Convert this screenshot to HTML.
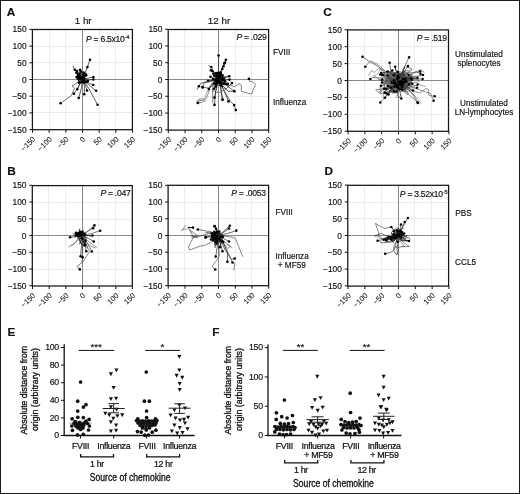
<!DOCTYPE html><html><head><meta charset="utf-8"><style>html,body{margin:0;padding:0;background:#fff;overflow:hidden}svg{display:block;filter:grayscale(1) blur(0.45px)} text{stroke:#111;stroke-width:0.16px} text.ct{stroke-width:0.32px} text.rl{stroke-width:0.05px} text.lb{stroke-width:0.24px}</style></head><body><svg xmlns="http://www.w3.org/2000/svg" width="520" height="494" viewBox="0 0 520 494" font-family='"Liberation Sans", sans-serif' fill="#111">
<rect x="0" y="0" width="520" height="494" fill="#fff"/>
<text x="6.8" y="15.9" font-size="11.8" text-anchor="start" font-weight="bold" font-style="normal" >A</text>
<text x="323.3" y="15.9" font-size="11.8" text-anchor="start" font-weight="bold" font-style="normal" >C</text>
<text x="7.3" y="174.9" font-size="11.8" text-anchor="start" font-weight="bold" font-style="normal" >B</text>
<text x="324.4" y="175.1" font-size="11.8" text-anchor="start" font-weight="bold" font-style="normal" >D</text>
<text x="7.4" y="336.2" font-size="11.8" text-anchor="start" font-weight="bold" font-style="normal" >E</text>
<text x="212.3" y="336" font-size="11.8" text-anchor="start" font-weight="bold" font-style="normal" >F</text>
<text x="83.2" y="23.8" font-size="9.8" text-anchor="middle" font-weight="normal" font-style="normal" >1 hr</text>
<text x="219" y="23.8" font-size="9.8" text-anchor="middle" font-weight="normal" font-style="normal" >12 hr</text>
<line x1="49.50" y1="29.5" x2="49.50" y2="129.7" stroke="#ebebeb" stroke-width="1"/>
<line x1="32.4" y1="112.50" x2="132.4" y2="112.50" stroke="#ebebeb" stroke-width="1"/>
<line x1="65.50" y1="29.5" x2="65.50" y2="129.7" stroke="#ebebeb" stroke-width="1"/>
<line x1="32.4" y1="96.50" x2="132.4" y2="96.50" stroke="#ebebeb" stroke-width="1"/>
<line x1="99.50" y1="29.5" x2="99.50" y2="129.7" stroke="#ebebeb" stroke-width="1"/>
<line x1="32.4" y1="62.50" x2="132.4" y2="62.50" stroke="#ebebeb" stroke-width="1"/>
<line x1="115.50" y1="29.5" x2="115.50" y2="129.7" stroke="#ebebeb" stroke-width="1"/>
<line x1="32.4" y1="46.50" x2="132.4" y2="46.50" stroke="#ebebeb" stroke-width="1"/>
<line x1="82.50" y1="29.5" x2="82.50" y2="129.7" stroke="#7a7a7a" stroke-width="0.9"/>
<line x1="32.4" y1="79.50" x2="132.4" y2="79.50" stroke="#7a7a7a" stroke-width="0.9"/>
<line x1="29.4" y1="29.40" x2="32.4" y2="29.40" stroke="#111" stroke-width="1"/>
<text x="26.60" y="32.40" font-size="8.4" text-anchor="end" font-weight="normal" font-style="normal" >150</text>
<line x1="29.4" y1="46.10" x2="32.4" y2="46.10" stroke="#111" stroke-width="1"/>
<text x="26.60" y="49.10" font-size="8.4" text-anchor="end" font-weight="normal" font-style="normal" >100</text>
<line x1="29.4" y1="62.80" x2="32.4" y2="62.80" stroke="#111" stroke-width="1"/>
<text x="26.60" y="65.80" font-size="8.4" text-anchor="end" font-weight="normal" font-style="normal" >50</text>
<line x1="29.4" y1="79.50" x2="32.4" y2="79.50" stroke="#111" stroke-width="1"/>
<text x="26.60" y="82.50" font-size="8.4" text-anchor="end" font-weight="normal" font-style="normal" >0</text>
<line x1="29.4" y1="96.20" x2="32.4" y2="96.20" stroke="#111" stroke-width="1"/>
<text x="26.60" y="99.20" font-size="8.4" text-anchor="end" font-weight="normal" font-style="normal" >&#8722;50</text>
<line x1="29.4" y1="112.90" x2="32.4" y2="112.90" stroke="#111" stroke-width="1"/>
<text x="26.60" y="115.90" font-size="8.4" text-anchor="end" font-weight="normal" font-style="normal" >&#8722;100</text>
<line x1="29.4" y1="129.60" x2="32.4" y2="129.60" stroke="#111" stroke-width="1"/>
<text x="26.60" y="132.60" font-size="8.4" text-anchor="end" font-weight="normal" font-style="normal" >&#8722;150</text>
<line x1="32.50" y1="129.7" x2="32.50" y2="132.7" stroke="#111" stroke-width="1"/>
<text class="rl" font-size="7.5" text-anchor="end" transform="translate(35.80,139.70) rotate(-45)">&#8722;150</text>
<line x1="49.17" y1="129.7" x2="49.17" y2="132.7" stroke="#111" stroke-width="1"/>
<text class="rl" font-size="7.5" text-anchor="end" transform="translate(52.47,139.70) rotate(-45)">&#8722;100</text>
<line x1="65.83" y1="129.7" x2="65.83" y2="132.7" stroke="#111" stroke-width="1"/>
<text class="rl" font-size="7.5" text-anchor="end" transform="translate(69.13,139.70) rotate(-45)">&#8722;50</text>
<line x1="82.50" y1="129.7" x2="82.50" y2="132.7" stroke="#111" stroke-width="1"/>
<text class="rl" font-size="7.5" text-anchor="end" transform="translate(85.80,139.70) rotate(-45)">0</text>
<line x1="99.17" y1="129.7" x2="99.17" y2="132.7" stroke="#111" stroke-width="1"/>
<text class="rl" font-size="7.5" text-anchor="end" transform="translate(102.47,139.70) rotate(-45)">50</text>
<line x1="115.83" y1="129.7" x2="115.83" y2="132.7" stroke="#111" stroke-width="1"/>
<text class="rl" font-size="7.5" text-anchor="end" transform="translate(119.13,139.70) rotate(-45)">100</text>
<line x1="132.50" y1="129.7" x2="132.50" y2="132.7" stroke="#111" stroke-width="1"/>
<text class="rl" font-size="7.5" text-anchor="end" transform="translate(135.80,139.70) rotate(-45)">150</text>
<rect x="32.4" y="29.5" width="100" height="100.2" fill="none" stroke="#151515" stroke-width="1.25"/>
<text x="129.0" y="41.8" font-size="8.6" letter-spacing="-0.28" text-anchor="end"><tspan font-style="italic">P</tspan> = 6.5x10<tspan font-size="5.6" dy="-2.8">-4</tspan></text>
<line x1="184.50" y1="29.5" x2="184.50" y2="130.1" stroke="#ebebeb" stroke-width="1"/>
<line x1="168.2" y1="113.50" x2="268.6" y2="113.50" stroke="#ebebeb" stroke-width="1"/>
<line x1="201.50" y1="29.5" x2="201.50" y2="130.1" stroke="#ebebeb" stroke-width="1"/>
<line x1="168.2" y1="96.50" x2="268.6" y2="96.50" stroke="#ebebeb" stroke-width="1"/>
<line x1="235.50" y1="29.5" x2="235.50" y2="130.1" stroke="#ebebeb" stroke-width="1"/>
<line x1="168.2" y1="63.50" x2="268.6" y2="63.50" stroke="#ebebeb" stroke-width="1"/>
<line x1="251.50" y1="29.5" x2="251.50" y2="130.1" stroke="#ebebeb" stroke-width="1"/>
<line x1="168.2" y1="46.50" x2="268.6" y2="46.50" stroke="#ebebeb" stroke-width="1"/>
<line x1="218.50" y1="29.5" x2="218.50" y2="130.1" stroke="#7a7a7a" stroke-width="0.9"/>
<line x1="168.2" y1="79.50" x2="268.6" y2="79.50" stroke="#7a7a7a" stroke-width="0.9"/>
<line x1="165.2" y1="29.20" x2="168.2" y2="29.20" stroke="#111" stroke-width="1"/>
<text x="162.40" y="32.20" font-size="8.4" text-anchor="end" font-weight="normal" font-style="normal" >150</text>
<line x1="165.2" y1="45.97" x2="168.2" y2="45.97" stroke="#111" stroke-width="1"/>
<text x="162.40" y="48.97" font-size="8.4" text-anchor="end" font-weight="normal" font-style="normal" >100</text>
<line x1="165.2" y1="62.73" x2="168.2" y2="62.73" stroke="#111" stroke-width="1"/>
<text x="162.40" y="65.73" font-size="8.4" text-anchor="end" font-weight="normal" font-style="normal" >50</text>
<line x1="165.2" y1="79.50" x2="168.2" y2="79.50" stroke="#111" stroke-width="1"/>
<text x="162.40" y="82.50" font-size="8.4" text-anchor="end" font-weight="normal" font-style="normal" >0</text>
<line x1="165.2" y1="96.27" x2="168.2" y2="96.27" stroke="#111" stroke-width="1"/>
<text x="162.40" y="99.27" font-size="8.4" text-anchor="end" font-weight="normal" font-style="normal" >&#8722;50</text>
<line x1="165.2" y1="113.03" x2="168.2" y2="113.03" stroke="#111" stroke-width="1"/>
<text x="162.40" y="116.03" font-size="8.4" text-anchor="end" font-weight="normal" font-style="normal" >&#8722;100</text>
<line x1="165.2" y1="129.80" x2="168.2" y2="129.80" stroke="#111" stroke-width="1"/>
<text x="162.40" y="132.80" font-size="8.4" text-anchor="end" font-weight="normal" font-style="normal" >&#8722;150</text>
<line x1="168.30" y1="130.1" x2="168.30" y2="133.1" stroke="#111" stroke-width="1"/>
<text class="rl" font-size="7.5" text-anchor="end" transform="translate(171.60,140.10) rotate(-45)">&#8722;150</text>
<line x1="185.03" y1="130.1" x2="185.03" y2="133.1" stroke="#111" stroke-width="1"/>
<text class="rl" font-size="7.5" text-anchor="end" transform="translate(188.33,140.10) rotate(-45)">&#8722;100</text>
<line x1="201.77" y1="130.1" x2="201.77" y2="133.1" stroke="#111" stroke-width="1"/>
<text class="rl" font-size="7.5" text-anchor="end" transform="translate(205.07,140.10) rotate(-45)">&#8722;50</text>
<line x1="218.50" y1="130.1" x2="218.50" y2="133.1" stroke="#111" stroke-width="1"/>
<text class="rl" font-size="7.5" text-anchor="end" transform="translate(221.80,140.10) rotate(-45)">0</text>
<line x1="235.23" y1="130.1" x2="235.23" y2="133.1" stroke="#111" stroke-width="1"/>
<text class="rl" font-size="7.5" text-anchor="end" transform="translate(238.53,140.10) rotate(-45)">50</text>
<line x1="251.97" y1="130.1" x2="251.97" y2="133.1" stroke="#111" stroke-width="1"/>
<text class="rl" font-size="7.5" text-anchor="end" transform="translate(255.27,140.10) rotate(-45)">100</text>
<line x1="268.70" y1="130.1" x2="268.70" y2="133.1" stroke="#111" stroke-width="1"/>
<text class="rl" font-size="7.5" text-anchor="end" transform="translate(272.00,140.10) rotate(-45)">150</text>
<rect x="168.2" y="29.5" width="100.4" height="100.6" fill="none" stroke="#151515" stroke-width="1.25"/>
<text x="266.40000000000003" y="40.1" font-size="8.6" letter-spacing="-0.28" text-anchor="end"><tspan font-style="italic">P</tspan> = .029</text>
<line x1="364.50" y1="29.9" x2="364.50" y2="131.3" stroke="#ebebeb" stroke-width="1"/>
<line x1="347.6" y1="114.50" x2="448.5" y2="114.50" stroke="#ebebeb" stroke-width="1"/>
<line x1="381.50" y1="29.9" x2="381.50" y2="131.3" stroke="#ebebeb" stroke-width="1"/>
<line x1="347.6" y1="97.50" x2="448.5" y2="97.50" stroke="#ebebeb" stroke-width="1"/>
<line x1="414.50" y1="29.9" x2="414.50" y2="131.3" stroke="#ebebeb" stroke-width="1"/>
<line x1="347.6" y1="63.50" x2="448.5" y2="63.50" stroke="#ebebeb" stroke-width="1"/>
<line x1="431.50" y1="29.9" x2="431.50" y2="131.3" stroke="#ebebeb" stroke-width="1"/>
<line x1="347.6" y1="46.50" x2="448.5" y2="46.50" stroke="#ebebeb" stroke-width="1"/>
<line x1="398.50" y1="29.9" x2="398.50" y2="131.3" stroke="#7a7a7a" stroke-width="0.9"/>
<line x1="347.6" y1="80.50" x2="448.5" y2="80.50" stroke="#7a7a7a" stroke-width="0.9"/>
<line x1="344.6" y1="29.80" x2="347.6" y2="29.80" stroke="#111" stroke-width="1"/>
<text x="341.80" y="32.80" font-size="8.4" text-anchor="end" font-weight="normal" font-style="normal" >150</text>
<line x1="344.6" y1="46.70" x2="347.6" y2="46.70" stroke="#111" stroke-width="1"/>
<text x="341.80" y="49.70" font-size="8.4" text-anchor="end" font-weight="normal" font-style="normal" >100</text>
<line x1="344.6" y1="63.60" x2="347.6" y2="63.60" stroke="#111" stroke-width="1"/>
<text x="341.80" y="66.60" font-size="8.4" text-anchor="end" font-weight="normal" font-style="normal" >50</text>
<line x1="344.6" y1="80.50" x2="347.6" y2="80.50" stroke="#111" stroke-width="1"/>
<text x="341.80" y="83.50" font-size="8.4" text-anchor="end" font-weight="normal" font-style="normal" >0</text>
<line x1="344.6" y1="97.40" x2="347.6" y2="97.40" stroke="#111" stroke-width="1"/>
<text x="341.80" y="100.40" font-size="8.4" text-anchor="end" font-weight="normal" font-style="normal" >&#8722;50</text>
<line x1="344.6" y1="114.30" x2="347.6" y2="114.30" stroke="#111" stroke-width="1"/>
<text x="341.80" y="117.30" font-size="8.4" text-anchor="end" font-weight="normal" font-style="normal" >&#8722;100</text>
<line x1="344.6" y1="131.20" x2="347.6" y2="131.20" stroke="#111" stroke-width="1"/>
<text x="341.80" y="134.20" font-size="8.4" text-anchor="end" font-weight="normal" font-style="normal" >&#8722;150</text>
<line x1="348.05" y1="131.3" x2="348.05" y2="134.3" stroke="#111" stroke-width="1"/>
<text class="rl" font-size="7.5" text-anchor="end" transform="translate(351.35,141.30) rotate(-45)">&#8722;150</text>
<line x1="364.87" y1="131.3" x2="364.87" y2="134.3" stroke="#111" stroke-width="1"/>
<text class="rl" font-size="7.5" text-anchor="end" transform="translate(368.17,141.30) rotate(-45)">&#8722;100</text>
<line x1="381.68" y1="131.3" x2="381.68" y2="134.3" stroke="#111" stroke-width="1"/>
<text class="rl" font-size="7.5" text-anchor="end" transform="translate(384.98,141.30) rotate(-45)">&#8722;50</text>
<line x1="398.50" y1="131.3" x2="398.50" y2="134.3" stroke="#111" stroke-width="1"/>
<text class="rl" font-size="7.5" text-anchor="end" transform="translate(401.80,141.30) rotate(-45)">0</text>
<line x1="415.32" y1="131.3" x2="415.32" y2="134.3" stroke="#111" stroke-width="1"/>
<text class="rl" font-size="7.5" text-anchor="end" transform="translate(418.62,141.30) rotate(-45)">50</text>
<line x1="432.13" y1="131.3" x2="432.13" y2="134.3" stroke="#111" stroke-width="1"/>
<text class="rl" font-size="7.5" text-anchor="end" transform="translate(435.43,141.30) rotate(-45)">100</text>
<line x1="448.95" y1="131.3" x2="448.95" y2="134.3" stroke="#111" stroke-width="1"/>
<text class="rl" font-size="7.5" text-anchor="end" transform="translate(452.25,141.30) rotate(-45)">150</text>
<rect x="347.6" y="29.9" width="100.9" height="101.4" fill="none" stroke="#151515" stroke-width="1.25"/>
<text x="446.8" y="40.7" font-size="8.6" letter-spacing="-0.28" text-anchor="end"><tspan font-style="italic">P</tspan> = .519</text>
<line x1="48.50" y1="185.6" x2="48.50" y2="286.0" stroke="#ebebeb" stroke-width="1"/>
<line x1="32.3" y1="269.50" x2="132.3" y2="269.50" stroke="#ebebeb" stroke-width="1"/>
<line x1="65.50" y1="185.6" x2="65.50" y2="286.0" stroke="#ebebeb" stroke-width="1"/>
<line x1="32.3" y1="252.50" x2="132.3" y2="252.50" stroke="#ebebeb" stroke-width="1"/>
<line x1="98.50" y1="185.6" x2="98.50" y2="286.0" stroke="#ebebeb" stroke-width="1"/>
<line x1="32.3" y1="219.50" x2="132.3" y2="219.50" stroke="#ebebeb" stroke-width="1"/>
<line x1="115.50" y1="185.6" x2="115.50" y2="286.0" stroke="#ebebeb" stroke-width="1"/>
<line x1="32.3" y1="202.50" x2="132.3" y2="202.50" stroke="#ebebeb" stroke-width="1"/>
<line x1="82.50" y1="185.6" x2="82.50" y2="286.0" stroke="#7a7a7a" stroke-width="0.9"/>
<line x1="32.3" y1="235.50" x2="132.3" y2="235.50" stroke="#7a7a7a" stroke-width="0.9"/>
<line x1="29.299999999999997" y1="185.30" x2="32.3" y2="185.30" stroke="#111" stroke-width="1"/>
<text x="26.50" y="188.30" font-size="8.4" text-anchor="end" font-weight="normal" font-style="normal" >150</text>
<line x1="29.299999999999997" y1="202.03" x2="32.3" y2="202.03" stroke="#111" stroke-width="1"/>
<text x="26.50" y="205.03" font-size="8.4" text-anchor="end" font-weight="normal" font-style="normal" >100</text>
<line x1="29.299999999999997" y1="218.77" x2="32.3" y2="218.77" stroke="#111" stroke-width="1"/>
<text x="26.50" y="221.77" font-size="8.4" text-anchor="end" font-weight="normal" font-style="normal" >50</text>
<line x1="29.299999999999997" y1="235.50" x2="32.3" y2="235.50" stroke="#111" stroke-width="1"/>
<text x="26.50" y="238.50" font-size="8.4" text-anchor="end" font-weight="normal" font-style="normal" >0</text>
<line x1="29.299999999999997" y1="252.23" x2="32.3" y2="252.23" stroke="#111" stroke-width="1"/>
<text x="26.50" y="255.23" font-size="8.4" text-anchor="end" font-weight="normal" font-style="normal" >&#8722;50</text>
<line x1="29.299999999999997" y1="268.97" x2="32.3" y2="268.97" stroke="#111" stroke-width="1"/>
<text x="26.50" y="271.97" font-size="8.4" text-anchor="end" font-weight="normal" font-style="normal" >&#8722;100</text>
<line x1="29.299999999999997" y1="285.70" x2="32.3" y2="285.70" stroke="#111" stroke-width="1"/>
<text x="26.50" y="288.70" font-size="8.4" text-anchor="end" font-weight="normal" font-style="normal" >&#8722;150</text>
<line x1="32.50" y1="286.0" x2="32.50" y2="289.0" stroke="#111" stroke-width="1"/>
<text class="rl" font-size="7.5" text-anchor="end" transform="translate(35.80,296.00) rotate(-45)">&#8722;150</text>
<line x1="49.17" y1="286.0" x2="49.17" y2="289.0" stroke="#111" stroke-width="1"/>
<text class="rl" font-size="7.5" text-anchor="end" transform="translate(52.47,296.00) rotate(-45)">&#8722;100</text>
<line x1="65.83" y1="286.0" x2="65.83" y2="289.0" stroke="#111" stroke-width="1"/>
<text class="rl" font-size="7.5" text-anchor="end" transform="translate(69.13,296.00) rotate(-45)">&#8722;50</text>
<line x1="82.50" y1="286.0" x2="82.50" y2="289.0" stroke="#111" stroke-width="1"/>
<text class="rl" font-size="7.5" text-anchor="end" transform="translate(85.80,296.00) rotate(-45)">0</text>
<line x1="99.17" y1="286.0" x2="99.17" y2="289.0" stroke="#111" stroke-width="1"/>
<text class="rl" font-size="7.5" text-anchor="end" transform="translate(102.47,296.00) rotate(-45)">50</text>
<line x1="115.83" y1="286.0" x2="115.83" y2="289.0" stroke="#111" stroke-width="1"/>
<text class="rl" font-size="7.5" text-anchor="end" transform="translate(119.13,296.00) rotate(-45)">100</text>
<line x1="132.50" y1="286.0" x2="132.50" y2="289.0" stroke="#111" stroke-width="1"/>
<text class="rl" font-size="7.5" text-anchor="end" transform="translate(135.80,296.00) rotate(-45)">150</text>
<rect x="32.3" y="185.6" width="100" height="100.4" fill="none" stroke="#151515" stroke-width="1.25"/>
<text x="130.4" y="195.9" font-size="8.6" letter-spacing="-0.28" text-anchor="end"><tspan font-style="italic">P</tspan> = .047</text>
<line x1="184.50" y1="185.3" x2="184.50" y2="285.70000000000005" stroke="#ebebeb" stroke-width="1"/>
<line x1="168.1" y1="268.50" x2="268.6" y2="268.50" stroke="#ebebeb" stroke-width="1"/>
<line x1="201.50" y1="185.3" x2="201.50" y2="285.70000000000005" stroke="#ebebeb" stroke-width="1"/>
<line x1="168.1" y1="252.50" x2="268.6" y2="252.50" stroke="#ebebeb" stroke-width="1"/>
<line x1="235.50" y1="185.3" x2="235.50" y2="285.70000000000005" stroke="#ebebeb" stroke-width="1"/>
<line x1="168.1" y1="218.50" x2="268.6" y2="218.50" stroke="#ebebeb" stroke-width="1"/>
<line x1="251.50" y1="185.3" x2="251.50" y2="285.70000000000005" stroke="#ebebeb" stroke-width="1"/>
<line x1="168.1" y1="202.50" x2="268.6" y2="202.50" stroke="#ebebeb" stroke-width="1"/>
<line x1="218.50" y1="185.3" x2="218.50" y2="285.70000000000005" stroke="#7a7a7a" stroke-width="0.9"/>
<line x1="168.1" y1="235.50" x2="268.6" y2="235.50" stroke="#7a7a7a" stroke-width="0.9"/>
<line x1="165.1" y1="185.30" x2="168.1" y2="185.30" stroke="#111" stroke-width="1"/>
<text x="162.30" y="188.30" font-size="8.4" text-anchor="end" font-weight="normal" font-style="normal" >150</text>
<line x1="165.1" y1="202.03" x2="168.1" y2="202.03" stroke="#111" stroke-width="1"/>
<text x="162.30" y="205.03" font-size="8.4" text-anchor="end" font-weight="normal" font-style="normal" >100</text>
<line x1="165.1" y1="218.77" x2="168.1" y2="218.77" stroke="#111" stroke-width="1"/>
<text x="162.30" y="221.77" font-size="8.4" text-anchor="end" font-weight="normal" font-style="normal" >50</text>
<line x1="165.1" y1="235.50" x2="168.1" y2="235.50" stroke="#111" stroke-width="1"/>
<text x="162.30" y="238.50" font-size="8.4" text-anchor="end" font-weight="normal" font-style="normal" >0</text>
<line x1="165.1" y1="252.23" x2="168.1" y2="252.23" stroke="#111" stroke-width="1"/>
<text x="162.30" y="255.23" font-size="8.4" text-anchor="end" font-weight="normal" font-style="normal" >&#8722;50</text>
<line x1="165.1" y1="268.97" x2="168.1" y2="268.97" stroke="#111" stroke-width="1"/>
<text x="162.30" y="271.97" font-size="8.4" text-anchor="end" font-weight="normal" font-style="normal" >&#8722;100</text>
<line x1="165.1" y1="285.70" x2="168.1" y2="285.70" stroke="#111" stroke-width="1"/>
<text x="162.30" y="288.70" font-size="8.4" text-anchor="end" font-weight="normal" font-style="normal" >&#8722;150</text>
<line x1="168.25" y1="285.70000000000005" x2="168.25" y2="288.70000000000005" stroke="#111" stroke-width="1"/>
<text class="rl" font-size="7.5" text-anchor="end" transform="translate(171.55,295.70) rotate(-45)">&#8722;150</text>
<line x1="185.00" y1="285.70000000000005" x2="185.00" y2="288.70000000000005" stroke="#111" stroke-width="1"/>
<text class="rl" font-size="7.5" text-anchor="end" transform="translate(188.30,295.70) rotate(-45)">&#8722;100</text>
<line x1="201.75" y1="285.70000000000005" x2="201.75" y2="288.70000000000005" stroke="#111" stroke-width="1"/>
<text class="rl" font-size="7.5" text-anchor="end" transform="translate(205.05,295.70) rotate(-45)">&#8722;50</text>
<line x1="218.50" y1="285.70000000000005" x2="218.50" y2="288.70000000000005" stroke="#111" stroke-width="1"/>
<text class="rl" font-size="7.5" text-anchor="end" transform="translate(221.80,295.70) rotate(-45)">0</text>
<line x1="235.25" y1="285.70000000000005" x2="235.25" y2="288.70000000000005" stroke="#111" stroke-width="1"/>
<text class="rl" font-size="7.5" text-anchor="end" transform="translate(238.55,295.70) rotate(-45)">50</text>
<line x1="252.00" y1="285.70000000000005" x2="252.00" y2="288.70000000000005" stroke="#111" stroke-width="1"/>
<text class="rl" font-size="7.5" text-anchor="end" transform="translate(255.30,295.70) rotate(-45)">100</text>
<line x1="268.75" y1="285.70000000000005" x2="268.75" y2="288.70000000000005" stroke="#111" stroke-width="1"/>
<text class="rl" font-size="7.5" text-anchor="end" transform="translate(272.05,295.70) rotate(-45)">150</text>
<rect x="168.1" y="185.3" width="100.5" height="100.4" fill="none" stroke="#151515" stroke-width="1.25"/>
<text x="265.70000000000005" y="196.3" font-size="8.6" letter-spacing="-0.28" text-anchor="end"><tspan font-style="italic">P</tspan> = .0053</text>
<line x1="364.50" y1="185.3" x2="364.50" y2="286.1" stroke="#ebebeb" stroke-width="1"/>
<line x1="347.75" y1="269.50" x2="448.6" y2="269.50" stroke="#ebebeb" stroke-width="1"/>
<line x1="381.50" y1="185.3" x2="381.50" y2="286.1" stroke="#ebebeb" stroke-width="1"/>
<line x1="347.75" y1="252.50" x2="448.6" y2="252.50" stroke="#ebebeb" stroke-width="1"/>
<line x1="414.50" y1="185.3" x2="414.50" y2="286.1" stroke="#ebebeb" stroke-width="1"/>
<line x1="347.75" y1="218.50" x2="448.6" y2="218.50" stroke="#ebebeb" stroke-width="1"/>
<line x1="431.50" y1="185.3" x2="431.50" y2="286.1" stroke="#ebebeb" stroke-width="1"/>
<line x1="347.75" y1="202.50" x2="448.6" y2="202.50" stroke="#ebebeb" stroke-width="1"/>
<line x1="398.50" y1="185.3" x2="398.50" y2="286.1" stroke="#7a7a7a" stroke-width="0.9"/>
<line x1="347.75" y1="235.50" x2="448.6" y2="235.50" stroke="#7a7a7a" stroke-width="0.9"/>
<line x1="344.75" y1="185.10" x2="347.75" y2="185.10" stroke="#111" stroke-width="1"/>
<text x="341.95" y="188.10" font-size="8.4" text-anchor="end" font-weight="normal" font-style="normal" >150</text>
<line x1="344.75" y1="201.90" x2="347.75" y2="201.90" stroke="#111" stroke-width="1"/>
<text x="341.95" y="204.90" font-size="8.4" text-anchor="end" font-weight="normal" font-style="normal" >100</text>
<line x1="344.75" y1="218.70" x2="347.75" y2="218.70" stroke="#111" stroke-width="1"/>
<text x="341.95" y="221.70" font-size="8.4" text-anchor="end" font-weight="normal" font-style="normal" >50</text>
<line x1="344.75" y1="235.50" x2="347.75" y2="235.50" stroke="#111" stroke-width="1"/>
<text x="341.95" y="238.50" font-size="8.4" text-anchor="end" font-weight="normal" font-style="normal" >0</text>
<line x1="344.75" y1="252.30" x2="347.75" y2="252.30" stroke="#111" stroke-width="1"/>
<text x="341.95" y="255.30" font-size="8.4" text-anchor="end" font-weight="normal" font-style="normal" >&#8722;50</text>
<line x1="344.75" y1="269.10" x2="347.75" y2="269.10" stroke="#111" stroke-width="1"/>
<text x="341.95" y="272.10" font-size="8.4" text-anchor="end" font-weight="normal" font-style="normal" >&#8722;100</text>
<line x1="344.75" y1="285.90" x2="347.75" y2="285.90" stroke="#111" stroke-width="1"/>
<text x="341.95" y="288.90" font-size="8.4" text-anchor="end" font-weight="normal" font-style="normal" >&#8722;150</text>
<line x1="348.07" y1="286.1" x2="348.07" y2="289.1" stroke="#111" stroke-width="1"/>
<text class="rl" font-size="7.5" text-anchor="end" transform="translate(351.38,296.10) rotate(-45)">&#8722;150</text>
<line x1="364.88" y1="286.1" x2="364.88" y2="289.1" stroke="#111" stroke-width="1"/>
<text class="rl" font-size="7.5" text-anchor="end" transform="translate(368.18,296.10) rotate(-45)">&#8722;100</text>
<line x1="381.69" y1="286.1" x2="381.69" y2="289.1" stroke="#111" stroke-width="1"/>
<text class="rl" font-size="7.5" text-anchor="end" transform="translate(384.99,296.10) rotate(-45)">&#8722;50</text>
<line x1="398.50" y1="286.1" x2="398.50" y2="289.1" stroke="#111" stroke-width="1"/>
<text class="rl" font-size="7.5" text-anchor="end" transform="translate(401.80,296.10) rotate(-45)">0</text>
<line x1="415.31" y1="286.1" x2="415.31" y2="289.1" stroke="#111" stroke-width="1"/>
<text class="rl" font-size="7.5" text-anchor="end" transform="translate(418.61,296.10) rotate(-45)">50</text>
<line x1="432.12" y1="286.1" x2="432.12" y2="289.1" stroke="#111" stroke-width="1"/>
<text class="rl" font-size="7.5" text-anchor="end" transform="translate(435.42,296.10) rotate(-45)">100</text>
<line x1="448.93" y1="286.1" x2="448.93" y2="289.1" stroke="#111" stroke-width="1"/>
<text class="rl" font-size="7.5" text-anchor="end" transform="translate(452.23,296.10) rotate(-45)">150</text>
<rect x="347.75" y="185.3" width="100.85" height="100.8" fill="none" stroke="#151515" stroke-width="1.25"/>
<text x="447.3" y="196.60000000000002" font-size="8.6" letter-spacing="-0.28" text-anchor="end"><tspan font-style="italic">P</tspan> = 3.52x10<tspan font-size="5.6" dy="-2.8">-5</tspan></text>
<g fill="none" stroke-width="0.75" stroke-linejoin="round"><path d="M82.5,79.5 L81.6,80.4 L80.1,79.8 L80.1,78.9 L78.9,78.3 L78.3,78.2 L77.8,77.9" stroke="#111"/><path d="M82.5,79.5 L82.5,79.8 L82.4,78.1 L79.8,80.1 L80.5,79.6 L79.6,79.2 L79.1,78.8 L78.8,78.9" stroke="#111"/><path d="M82.5,79.5 L83.8,79.8 L82.3,77.2 L80.6,76.4 L80.1,76.5 L80.3,75.6 L79.9,74.6 L79.6,73.5" stroke="#111"/><path d="M82.5,79.5 L82.5,78.9 L82.2,78.2 L82.9,76.5 L82.8,75.9 L83.9,74.9 L83.9,74.3" stroke="#111"/><path d="M82.5,79.5 L81.0,77.9 L80.2,77.5 L78.5,77.2 L77.0,77.0" stroke="#111"/><path d="M82.5,79.5 L84.8,77.1 L83.2,79.0 L84.9,77.1 L85.1,75.9 L86.2,75.3" stroke="#111"/><path d="M82.5,79.5 L81.4,77.7 L82.2,75.6 L82.5,73.4" stroke="#111"/><path d="M82.5,79.5 L80.6,77.9 L81.9,79.5 L79.5,77.6 L79.5,78.4 L78.2,77.7 L77.6,77.0" stroke="#111"/><path d="M82.5,79.5 L81.5,79.7 L81.6,79.3 L82.2,77.7 L81.7,77.8 L81.8,77.1" stroke="#111"/><path d="M82.5,79.5 L81.8,79.4 L83.5,75.7 L83.0,74.9 L83.0,73.7 L83.5,72.5" stroke="#111"/><path d="M82.5,79.5 L83.1,80.1 L83.0,78.6 L82.2,78.7 L83.4,79.7 L83.2,79.5" stroke="#111"/><path d="M82.5,79.5 L80.2,77.7 L80.1,78.2 L78.3,78.8 L78.0,77.3 L76.7,77.1" stroke="#111"/><path d="M82.5,79.5 L83.6,77.5 L81.7,77.3 L81.6,77.9 L80.2,77.1 L80.2,76.9 L80.1,76.7" stroke="#111"/><path d="M82.5,79.5 L82.7,79.8 L82.3,78.4 L82.9,77.1 L84.2,75.7 L84.8,75.1 L85.1,74.3" stroke="#111"/><path d="M82.5,79.5 L81.6,78.0 L84.0,79.2 L82.8,79.2 L82.8,78.2 L82.9,77.4 L83.6,77.4 L83.6,76.7" stroke="#111"/><path d="M82.5,79.5 L81.7,80.6 L80.6,77.9 L82.5,79.5 L80.7,78.6 L81.2,78.7 L80.6,78.3" stroke="#111"/><path d="M82.5,79.5 L82.0,76.6 L80.5,77.8 L80.4,75.8 L81.2,73.6 L81.1,72.0 L80.2,71.1 L80.1,69.7" stroke="#111"/><path d="M82.5,79.5 L82.1,79.1 L82.2,78.5 L81.7,77.4" stroke="#111"/><path d="M82.5,79.5 L82.2,78.7 L79.9,77.4 L79.5,76.9" stroke="#111"/><path d="M82.5,79.5 L81.7,81.5 L83.8,80.2 L83.7,81.8 L84.1,82.4" stroke="#111"/><path d="M82.5,79.5 L82.8,78.5 L82.7,77.1 L84.4,75.3 L84.5,73.3 L84.8,72.1" stroke="#111"/><path d="M82.5,79.5 L80.5,79.3 L78.9,77.7 L78.1,76.6 L77.5,75.7 L76.4,75.0" stroke="#111"/><path d="M82.5,79.5 L81.7,80.1 L80.9,77.8 L81.7,78.9 L82.0,78.3 L81.6,77.6 L81.1,77.0 L80.5,76.9" stroke="#111"/><path d="M82.5,79.5 L82.3,79.7 L81.3,77.7 L82.8,76.9 L81.6,74.5 L80.8,73.8 L80.8,72.6 L80.7,71.4" stroke="#111"/><path d="M82.5,79.5 L81.3,79.3 L80.4,79.7 L78.7,79.6" stroke="#111"/><path d="M82.5,79.5 L81.0,78.8 L80.1,78.0 L81.1,78.4 L79.7,76.7 L78.9,76.3 L78.4,75.6" stroke="#111"/><path d="M82.5,79.5 L79.5,76.5 L76.3,72.7" stroke="#2a2a2a"/><path d="M82.5,79.5 L79.5,74.5 L77.0,71.0" stroke="#2a2a2a"/><path d="M82.5,79.5 L80.5,75.5 L78.5,74.0" stroke="#2a2a2a"/><path d="M82.5,79.5 L83.0,79.9 L83.3,77.6 L82.3,76.8 L81.8,77.8 L81.4,78.5 L81.3,78.3 L82.4,77.5" stroke="#111"/><path d="M82.5,79.5 L83.7,79.4 L85.0,78.6 L85.7,78.0 L85.7,79.2 L86.0,79.9 L85.0,79.4 L84.0,78.1 L83.8,76.6" stroke="#111"/><path d="M82.5,79.5 L82.8,79.6 L83.7,79.7 L84.0,79.1 L83.5,77.8 L82.6,77.6" stroke="#111"/><path d="M82.5,79.5 L82.9,78.9 L82.9,77.1 L82.7,76.1 L82.6,74.3 L81.6,74.2" stroke="#111"/><path d="M82.5,79.5 L81.7,79.8 L80.7,78.8 L80.4,77.5 L79.8,77.1" stroke="#111"/><path d="M82.5,79.5 L82.8,78.2 L82.1,76.5 L82.7,75.3 L83.6,74.0" stroke="#111"/><path d="M82.5,79.5 L81.6,79.8 L81.2,80.4 L80.8,80.7 L80.9,80.6 L80.7,80.8 L79.3,81.8 L79.1,82.5" stroke="#111"/><path d="M82.5,79.5 L83.4,79.0 L84.4,77.4 L84.6,77.0 L86.1,76.6 L86.2,75.3 L86.2,72.8" stroke="#111"/><path d="M82.5,79.5 L81.6,79.7 L81.2,81.3 L81.3,81.6 L81.2,81.5 L81.4,82.2" stroke="#111"/><path d="M82.5,79.5 L82.4,79.9 L82.3,81.2 L81.3,81.3 L81.3,81.3" stroke="#111"/><path d="M82.5,79.5 L82.6,79.6 L82.6,79.7 L83.5,80.4 L83.7,80.4" stroke="#111"/><path d="M82.5,79.5 L82.4,79.2 L82.7,79.5 L82.9,79.7 L82.5,80.7 L83.5,82.2" stroke="#111"/><path d="M82.5,79.5 L81.7,79.6 L81.7,80.0 L81.9,80.5 L82.4,81.3 L83.9,81.5 L84.4,81.3 L85.5,82.2 L86.0,82.0" stroke="#111"/><path d="M82.5,79.5 L81.5,79.9 L81.1,80.1 L80.1,81.1 L79.4,81.6 L79.0,82.6" stroke="#111"/><path d="M82.5,79.5 L82.6,80.2 L82.2,80.6 L82.5,81.3 L83.4,80.7 L83.0,79.3 L84.1,78.6 L84.1,77.0" stroke="#111"/><path d="M82.5,79.5 L82.3,79.3 L82.1,79.8 L83.1,80.7 L84.4,81.1 L85.6,80.6 L86.7,80.8 L87.5,80.2 L87.8,81.1" stroke="#111"/><path d="M82.5,79.5 L84.5,74.5 L87.4,67.1 L90.0,59.8" stroke="#2a2a2a"/><path d="M82.5,79.5 L79.5,81.5 L72.0,86.0 L74.5,88.0 L73.0,91.5 L71.5,95.5 L60.6,103.2" stroke="#444"/><path d="M82.5,79.5 L85.5,83.5 L88.5,88.0 L97.6,104.7" stroke="#2a2a2a"/><path d="M82.5,79.5 L89.5,85.5 L96.1,90.8" stroke="#2a2a2a"/><path d="M82.5,79.5 L87.5,82.5 L93.2,85.0" stroke="#2a2a2a"/><path d="M82.5,79.5 L88.5,80.0 L93.4,79.5" stroke="#2a2a2a"/><path d="M82.5,79.5 L88.5,78.0 L93.4,77.1" stroke="#2a2a2a"/><path d="M82.5,79.5 L81.5,87.5 L78.7,98.0" stroke="#2a2a2a"/><path d="M82.5,79.5 L78.5,86.5 L73.9,93.8" stroke="#2a2a2a"/><path d="M82.5,79.5 L84.5,86.5 L84.2,94.3" stroke="#2a2a2a"/><path d="M82.5,79.5 L79.5,84.5 L77.3,89.2" stroke="#2a2a2a"/><path d="M82.5,79.5 L78.5,74.5 L74.8,69.8 L72.8,65.9" stroke="#2a2a2a"/><path d="M82.5,79.5 L87.6,81.3" stroke="#2a2a2a"/><path d="M82.5,79.5 L85.5,85.5 L87.0,90.5" stroke="#2a2a2a"/></g>
<g fill="#000"><circle cx="77.8" cy="77.9" r="1.3"/><circle cx="78.8" cy="78.9" r="1.3"/><circle cx="79.6" cy="73.5" r="1.3"/><circle cx="83.9" cy="74.3" r="1.3"/><circle cx="77.0" cy="77.0" r="1.3"/><circle cx="86.2" cy="75.3" r="1.3"/><circle cx="77.6" cy="77.0" r="1.3"/><circle cx="81.8" cy="77.1" r="1.3"/><circle cx="83.5" cy="72.5" r="1.3"/><circle cx="83.2" cy="79.5" r="1.3"/><circle cx="76.7" cy="77.1" r="1.3"/><circle cx="80.1" cy="76.7" r="1.3"/><circle cx="85.1" cy="74.3" r="1.3"/><circle cx="83.6" cy="76.7" r="1.3"/><circle cx="80.6" cy="78.3" r="1.3"/><circle cx="80.1" cy="69.7" r="1.3"/><circle cx="81.7" cy="77.4" r="1.3"/><circle cx="84.1" cy="82.4" r="1.3"/><circle cx="80.5" cy="76.9" r="1.3"/><circle cx="80.7" cy="71.4" r="1.3"/><circle cx="78.7" cy="79.6" r="1.3"/><circle cx="78.4" cy="75.6" r="1.3"/><circle cx="76.3" cy="72.7" r="1.3"/><circle cx="77.0" cy="71.0" r="1.3"/><circle cx="78.5" cy="74.0" r="1.3"/><circle cx="82.4" cy="77.5" r="1.3"/><circle cx="82.6" cy="77.6" r="1.3"/><circle cx="79.8" cy="77.1" r="1.3"/><circle cx="83.6" cy="74.0" r="1.3"/><circle cx="79.1" cy="82.5" r="1.3"/><circle cx="81.4" cy="82.2" r="1.3"/><circle cx="83.7" cy="80.4" r="1.3"/><circle cx="86.0" cy="82.0" r="1.3"/><circle cx="79.0" cy="82.6" r="1.3"/><circle cx="87.8" cy="81.1" r="1.3"/><circle cx="90.0" cy="59.8" r="1.3"/><circle cx="87.4" cy="67.1" r="1.3"/><circle cx="60.6" cy="103.2" r="1.3"/><circle cx="97.6" cy="104.7" r="1.3"/><circle cx="96.1" cy="90.8" r="1.3"/><circle cx="93.2" cy="85.0" r="1.3"/><circle cx="93.4" cy="79.5" r="1.3"/><circle cx="93.4" cy="77.1" r="1.3"/><circle cx="78.7" cy="98.0" r="1.3"/><circle cx="73.9" cy="93.8" r="1.3"/><circle cx="84.2" cy="94.3" r="1.3"/><circle cx="77.3" cy="89.2" r="1.3"/><circle cx="78.5" cy="74.5" r="1.3"/><circle cx="74.8" cy="69.8" r="1.3"/><circle cx="87.6" cy="81.3" r="1.3"/><circle cx="87.0" cy="90.5" r="1.3"/></g>
<g fill="none" stroke-width="0.72" stroke-linejoin="round"><path d="M218.5,79.5 L219.6,78.9 L220.3,79.4 L220.9,78.7 L221.0,77.9" stroke="#111"/><path d="M218.5,79.5 L219.8,81.4 L220.1,77.3 L220.9,79.3 L219.4,77.9 L221.0,78.8 L221.3,78.8 L221.3,78.3 L221.4,78.1" stroke="#111"/><path d="M218.5,79.5 L217.2,80.8 L220.1,77.7 L218.3,78.9 L219.1,79.7 L220.9,78.3 L221.2,78.2 L222.1,77.6 L222.3,77.5" stroke="#111"/><path d="M218.5,79.5 L219.1,80.8 L217.0,76.7 L216.5,76.5 L216.8,76.1 L216.0,76.1 L214.7,75.6 L214.3,75.5" stroke="#111"/><path d="M218.5,79.5 L218.8,79.4 L216.3,78.4 L218.4,80.6 L217.6,79.4 L216.8,79.9 L216.8,80.4" stroke="#111"/><path d="M218.5,79.5 L219.9,82.4 L221.4,80.9 L222.1,82.0 L222.4,82.7 L223.6,83.1" stroke="#111"/><path d="M218.5,79.5 L219.1,78.0 L221.7,79.1 L222.1,78.5 L223.7,79.1" stroke="#111"/><path d="M218.5,79.5 L217.4,79.1 L217.8,80.5 L218.8,81.0 L219.4,81.7" stroke="#111"/><path d="M218.5,79.5 L216.7,78.0 L219.5,79.0 L221.0,80.3 L220.5,78.8 L220.6,79.0 L221.1,79.7 L222.0,79.8 L222.8,79.5" stroke="#111"/><path d="M218.5,79.5 L219.3,78.2 L219.3,77.9 L219.2,78.6 L218.4,78.4 L217.8,78.0 L217.6,78.4 L217.7,77.7" stroke="#111"/><path d="M218.5,79.5 L219.6,79.3 L221.6,80.6 L219.9,80.3 L220.9,82.5 L222.7,82.5 L224.0,83.3 L224.1,83.1 L225.2,83.7" stroke="#111"/><path d="M218.5,79.5 L216.4,80.7 L217.4,76.7 L217.7,78.3 L217.1,76.7 L217.1,76.1" stroke="#111"/><path d="M218.5,79.5 L219.5,80.6 L220.0,77.0 L217.1,77.2 L218.7,79.2 L219.6,77.4 L219.0,77.5 L218.7,77.1 L218.9,76.4" stroke="#111"/><path d="M218.5,79.5 L219.7,76.0 L218.3,75.8 L219.1,77.1 L220.8,74.2 L220.7,74.0 L220.7,72.6" stroke="#111"/><path d="M218.5,79.5 L217.3,79.8 L219.5,81.5 L217.4,78.2 L218.6,79.8 L216.9,79.2 L216.9,79.7 L216.8,80.0" stroke="#111"/><path d="M218.5,79.5 L217.8,77.5 L218.3,79.4 L218.0,77.1 L219.5,78.8 L219.2,77.5 L219.4,77.0 L219.6,76.6" stroke="#111"/><path d="M218.5,79.5 L218.9,80.5 L222.1,82.1 L222.6,83.5 L224.9,84.0" stroke="#111"/><path d="M218.5,79.5 L219.3,81.2 L218.7,80.0 L218.8,80.2 L218.2,80.0 L216.7,81.5 L216.6,81.2 L216.4,82.2 L216.4,82.2" stroke="#111"/><path d="M218.5,79.5 L219.0,78.4 L221.2,79.1 L221.4,81.0 L222.6,81.5 L223.1,83.0 L223.8,83.5" stroke="#111"/><path d="M218.5,79.5 L216.7,80.7 L217.1,77.6 L216.7,76.9 L216.7,75.8" stroke="#111"/><path d="M218.5,79.5 L219.8,81.0 L219.5,80.0 L220.8,80.7 L221.2,82.7 L221.0,82.8 L220.9,82.5 L221.6,84.2 L222.0,84.5" stroke="#111"/><path d="M218.5,79.5 L217.4,79.4 L219.1,77.8 L219.4,77.7 L218.5,76.9 L218.0,77.2 L218.5,77.0 L218.9,76.6" stroke="#111"/><path d="M218.5,79.5 L219.1,79.2 L216.2,80.2 L216.3,79.7 L215.1,80.4" stroke="#111"/><path d="M218.5,79.5 L218.6,77.1 L217.6,76.4 L219.0,77.4 L220.2,76.1 L220.2,75.1" stroke="#111"/><path d="M218.5,79.5 L220.6,77.8 L217.9,78.2 L219.1,80.5 L218.5,79.3 L218.5,80.2 L218.0,79.7 L217.5,79.8" stroke="#111"/><path d="M218.5,79.5 L220.5,82.3 L218.4,82.0 L219.4,83.5 L220.4,85.3" stroke="#111"/><path d="M218.5,79.5 L218.2,78.7 L219.2,77.9 L217.1,76.8 L217.1,76.9 L218.0,76.9 L217.6,76.4 L216.8,76.1 L216.9,75.8" stroke="#111"/><path d="M218.5,79.5 L216.9,77.7 L219.4,81.5 L219.1,81.2 L218.6,79.7 L218.8,81.1 L219.3,80.9" stroke="#111"/><path d="M218.5,79.5 L217.9,76.9 L217.1,76.8 L215.7,75.6 L214.7,75.1 L214.9,75.0 L214.1,74.6 L213.4,73.7" stroke="#111"/><path d="M218.5,79.5 L216.0,79.5 L215.8,79.6 L217.5,76.5 L216.7,76.1 L216.8,74.9 L217.1,74.5 L216.0,73.3 L215.8,72.6" stroke="#111"/><path d="M218.5,79.5 L218.6,78.6 L219.9,78.4 L220.6,80.9 L223.5,79.7 L222.6,80.9 L224.6,80.9 L225.2,80.9" stroke="#111"/><path d="M218.5,79.5 L219.8,77.1 L218.3,75.7 L218.2,76.6 L218.5,74.7 L218.5,73.5" stroke="#111"/><path d="M218.5,79.5 L219.7,80.8 L217.1,80.0 L216.2,80.6 L215.5,79.4 L214.4,79.0 L213.7,79.0" stroke="#111"/><path d="M218.5,79.5 L220.5,79.5 L217.5,78.3 L218.9,77.4 L217.6,76.1 L217.7,73.7 L217.2,73.1" stroke="#111"/><path d="M218.5,79.5 L216.3,77.6 L216.7,80.4 L219.5,80.2 L218.1,78.9 L218.2,79.2 L217.8,79.6" stroke="#111"/><path d="M218.5,79.5 L216.6,78.8 L215.8,80.3 L217.6,83.8 L216.6,83.5 L216.0,85.5 L215.5,86.5" stroke="#111"/><path d="M218.5,79.5 L218.7,79.6 L217.6,80.5 L218.1,81.3 L218.2,82.4" stroke="#111"/><path d="M218.5,79.5 L219.0,76.9 L217.4,78.0 L218.4,77.2 L216.1,76.3 L217.2,76.1 L216.5,74.3 L215.9,74.0 L215.9,73.2" stroke="#111"/><path d="M218.5,79.5 L216.5,79.8 L216.4,79.4 L215.4,76.1 L214.7,76.5 L214.2,75.4" stroke="#111"/><path d="M218.5,79.5 L220.2,79.2 L220.3,78.6 L222.0,81.2 L222.9,81.0 L224.2,80.8 L225.1,81.2" stroke="#111"/><path d="M218.5,79.5 L220.3,81.4 L221.0,83.0 L219.5,82.3 L220.2,83.9 L221.3,84.3" stroke="#111"/><path d="M218.5,79.5 L216.4,81.4 L219.8,79.1 L217.8,78.7 L216.9,79.7 L217.6,79.0 L216.7,79.9 L216.8,79.8 L216.3,79.6" stroke="#111"/><path d="M218.5,79.5 L217.5,79.1 L219.1,76.7 L219.7,76.1 L219.4,77.1 L218.9,76.1 L219.7,74.5 L219.8,73.5 L220.3,72.8" stroke="#111"/><path d="M218.5,79.5 L216.9,81.2 L220.6,80.0 L219.7,83.2 L220.6,83.9 L220.7,84.7 L221.6,86.0" stroke="#111"/><path d="M218.5,79.5 L220.1,80.1 L221.5,79.2 L223.1,78.8 L224.1,77.8 L224.8,76.6 L226.6,77.0 L227.8,75.9" stroke="#222"/><path d="M218.5,79.5 L218.8,78.1 L218.5,76.5 L218.8,74.2 L218.0,74.1 L217.2,73.3 L217.6,72.2 L218.1,71.4" stroke="#222"/><path d="M218.5,79.5 L219.3,77.4 L218.4,76.7 L217.4,77.4 L215.8,76.9 L215.9,77.6 L216.6,79.6 L214.6,80.5 L215.2,81.2" stroke="#222"/><path d="M218.5,79.5 L216.6,80.1 L216.5,80.2 L214.8,81.4 L214.0,81.1 L213.3,80.2 L212.8,79.0" stroke="#222"/><path d="M218.5,79.5 L219.2,80.7 L219.8,83.0 L218.0,82.6 L216.6,82.9 L216.4,81.5" stroke="#222"/><path d="M218.5,79.5 L219.9,79.4 L219.7,80.0 L219.0,81.4 L219.1,82.6 L220.1,82.5" stroke="#222"/><path d="M218.5,79.5 L217.3,80.3 L217.0,80.9 L215.2,81.9 L214.1,82.2 L214.1,81.3 L214.1,80.8 L213.0,79.6 L213.0,79.0" stroke="#222"/><path d="M218.5,79.5 L219.4,79.6 L219.5,78.8 L219.8,75.9 L221.4,75.2 L222.0,74.2 L221.5,73.2 L220.0,73.6" stroke="#222"/><path d="M218.5,79.5 L218.5,80.5 L220.4,81.1 L220.4,82.5 L220.4,82.9 L221.4,84.1 L221.4,83.9 L221.4,83.0 L220.7,82.1" stroke="#222"/><path d="M218.5,79.5 L219.2,79.4 L219.6,79.5 L220.4,79.1 L221.7,77.7 L221.8,74.9 L221.0,73.2" stroke="#222"/><path d="M218.5,79.5 L218.8,81.1 L218.7,82.1 L218.7,82.8 L219.0,83.5 L217.1,83.8" stroke="#222"/><path d="M218.5,79.5 L219.0,81.5 L218.6,82.7 L218.7,82.8 L221.1,83.9 L223.5,83.9 L224.8,84.2" stroke="#222"/><path d="M218.5,79.5 L217.5,80.6 L216.6,81.0 L216.0,82.4 L216.3,83.1 L216.1,83.9" stroke="#222"/><path d="M218.5,79.5 L219.4,79.5 L219.9,78.0 L220.9,78.0 L220.8,75.2 L218.9,73.4 L217.5,73.5 L215.4,72.9 L214.0,71.8 L212.8,71.2 L212.2,71.0" stroke="#222"/><path d="M218.5,79.5 L217.5,80.2 L216.3,82.4 L216.7,84.0 L217.1,85.2 L216.7,85.8 L216.0,86.4 L215.5,87.8 L215.2,88.2" stroke="#222"/><path d="M218.5,79.5 L217.6,80.6 L216.2,80.7 L216.0,79.6 L215.8,79.3 L214.9,77.8" stroke="#222"/><path d="M218.5,79.5 L218.7,78.9 L218.8,78.7 L217.5,77.5 L218.3,76.7 L219.4,75.9" stroke="#222"/><path d="M218.5,79.5 L216.8,78.7 L216.4,77.5 L215.2,75.9 L214.4,76.4 L213.4,79.1 L212.0,78.6" stroke="#222"/><path d="M218.5,79.5 L218.7,79.5 L219.7,79.5 L219.5,79.9 L217.4,79.5 L216.2,78.8 L216.0,78.6 L216.5,77.7 L216.3,76.5 L216.2,76.8" stroke="#222"/><path d="M218.5,79.5 L218.7,79.1 L218.7,78.0 L219.1,77.5 L219.2,77.4 L220.0,74.8 L219.7,73.9" stroke="#222"/><path d="M218.5,79.5 L217.2,79.9 L215.9,80.3 L215.9,80.3 L216.4,79.9 L217.7,80.4 L219.0,79.9 L220.1,79.4 L221.8,79.4 L222.8,79.7" stroke="#222"/><path d="M218.5,79.5 L220.0,78.1 L220.7,77.5 L222.8,77.2 L223.2,76.8 L224.2,76.4 L225.3,77.7 L224.8,79.4 L224.7,79.5 L224.0,80.1" stroke="#222"/><path d="M218.5,79.5 L218.9,78.3 L219.2,77.3 L219.8,75.5 L220.5,75.1 L222.5,75.4" stroke="#222"/><path d="M218.5,79.5 L217.6,78.6 L218.6,76.6 L220.1,76.1 L221.4,76.0 L222.4,76.1" stroke="#222"/><path d="M218.5,79.5 L216.9,79.5 L215.4,79.9 L214.8,81.4 L214.4,81.9 L214.2,82.7 L214.1,83.5 L213.9,83.5" stroke="#222"/><path d="M218.5,79.5 L219.9,78.1 L220.2,77.9 L220.3,78.8 L220.5,78.9 L221.9,79.9 L222.9,79.4 L223.6,80.1" stroke="#222"/><path d="M218.5,79.5 L218.6,67.5 L218.6,55.5" stroke="#2a2a2a"/><path d="M218.5,79.5 L220.5,73.5 L222.3,69.0 L223.5,66.2 L224.3,63.4 L225.9,59.7" stroke="#2a2a2a"/><path d="M218.5,79.5 L220.0,72.5 L223.0,66.5 L225.0,62.5" stroke="#2a2a2a"/><path d="M218.5,79.5 L214.5,73.5 L211.3,67.0 L208.5,65.4" stroke="#2a2a2a"/><path d="M218.5,79.5 L214.5,74.5 L210.9,70.3" stroke="#2a2a2a"/><path d="M218.5,79.5 L213.5,78.5 L210.5,76.7" stroke="#2a2a2a"/><path d="M218.5,79.5 L213.5,80.5 L208.1,80.8" stroke="#2a2a2a"/><path d="M218.5,79.5 L224.5,77.5 L229.2,76.3" stroke="#2a2a2a"/><path d="M218.5,79.5 L224.5,80.0 L229.6,79.6" stroke="#2a2a2a"/><path d="M218.5,79.5 L223.5,82.5 L226.9,84.1" stroke="#2a2a2a"/><path d="M218.5,79.5 L224.5,84.5 L229.6,85.5 L234.6,86.4 L239.6,83.5 L241.4,85.9 L241.4,91.4 L251.4,94.1 L255.5,84.6 L252.3,81.8 L249.6,81.4 L248.9,78.7" stroke="#555"/><path d="M218.5,79.5 L222.5,85.5 L228.5,91.5 L234.1,91.1" stroke="#2a2a2a"/><path d="M218.5,79.5 L223.5,89.5 L228.5,101.4" stroke="#2a2a2a"/><path d="M218.5,79.5 L220.5,87.5 L222.5,99.6" stroke="#2a2a2a"/><path d="M218.5,79.5 L224.5,91.5 L230.5,101.5 L234.1,105.1 L235.8,110.1" stroke="#2a2a2a"/><path d="M218.5,79.5 L225.5,89.5 L231.9,83.1" stroke="#2a2a2a"/><path d="M218.5,79.5 L226.5,85.5 L234.3,91.2" stroke="#2a2a2a"/><path d="M218.5,79.5 L223.5,82.5 L227.8,83.9" stroke="#2a2a2a"/><path d="M218.5,79.5 L216.5,88.5 L214.5,97.6" stroke="#2a2a2a"/><path d="M218.5,79.5 L215.5,91.5 L214.5,104.9" stroke="#2a2a2a"/><path d="M218.5,79.5 L216.5,85.5 L214.1,88.8" stroke="#2a2a2a"/><path d="M218.5,79.5 L213.5,84.5 L208.8,89.1" stroke="#2a2a2a"/><path d="M218.5,79.5 L210.5,81.5 L204.5,82.8 L202.6,87.0" stroke="#2a2a2a"/><path d="M218.5,79.5 L210.5,80.5 L200.6,83.5 L198.9,86.3 L196.7,89.8" stroke="#2a2a2a"/><path d="M218.5,79.5 L211.5,83.5 L209.5,89.5 L207.5,95.5 L205.5,99.5 L199.5,100.5 L196.5,101.0 L200.5,102.5 L197.8,103.0" stroke="#666"/><path d="M218.5,79.5 L210.5,85.5 L206.5,93.5 L204.5,98.5 L198.5,99.0 L201.5,100.5 L205.5,101.0 L199.5,103.0" stroke="#888"/><path d="M218.5,79.5 L213.5,83.5 L208.5,88.0 L202.7,87.4" stroke="#2a2a2a"/><path d="M218.5,79.5 L220.5,84.5 L222.6,99.8" stroke="#2a2a2a"/><path d="M218.5,79.5 L212.5,87.5 L212.7,103.3" stroke="#555"/><path d="M218.5,79.5 L212.5,90.5 L216.5,92.5 L221.5,92.0 L224.5,89.5" stroke="#555"/></g>
<g fill="#000"><circle cx="221.0" cy="77.9" r="1.3"/><circle cx="221.4" cy="78.1" r="1.3"/><circle cx="222.3" cy="77.5" r="1.3"/><circle cx="214.3" cy="75.5" r="1.3"/><circle cx="216.8" cy="80.4" r="1.3"/><circle cx="223.7" cy="79.1" r="1.3"/><circle cx="222.8" cy="79.5" r="1.3"/><circle cx="217.7" cy="77.7" r="1.3"/><circle cx="225.2" cy="83.7" r="1.3"/><circle cx="217.1" cy="76.1" r="1.3"/><circle cx="220.7" cy="72.6" r="1.3"/><circle cx="219.6" cy="76.6" r="1.3"/><circle cx="224.9" cy="84.0" r="1.3"/><circle cx="216.4" cy="82.2" r="1.3"/><circle cx="223.8" cy="83.5" r="1.3"/><circle cx="216.7" cy="75.8" r="1.3"/><circle cx="218.9" cy="76.6" r="1.3"/><circle cx="215.1" cy="80.4" r="1.3"/><circle cx="220.2" cy="75.1" r="1.3"/><circle cx="217.5" cy="79.8" r="1.3"/><circle cx="220.4" cy="85.3" r="1.3"/><circle cx="216.9" cy="75.8" r="1.3"/><circle cx="219.3" cy="80.9" r="1.3"/><circle cx="213.4" cy="73.7" r="1.3"/><circle cx="218.5" cy="73.5" r="1.3"/><circle cx="217.2" cy="73.1" r="1.3"/><circle cx="215.5" cy="86.5" r="1.3"/><circle cx="218.2" cy="82.4" r="1.3"/><circle cx="215.9" cy="73.2" r="1.3"/><circle cx="214.2" cy="75.4" r="1.3"/><circle cx="225.1" cy="81.2" r="1.3"/><circle cx="221.3" cy="84.3" r="1.3"/><circle cx="216.3" cy="79.6" r="1.3"/><circle cx="220.3" cy="72.8" r="1.3"/><circle cx="221.6" cy="86.0" r="1.3"/><circle cx="220.1" cy="82.5" r="1.3"/><circle cx="213.0" cy="79.0" r="1.3"/><circle cx="220.0" cy="73.6" r="1.3"/><circle cx="216.1" cy="83.9" r="1.3"/><circle cx="212.2" cy="71.0" r="1.3"/><circle cx="219.7" cy="73.9" r="1.3"/><circle cx="222.8" cy="79.7" r="1.3"/><circle cx="222.5" cy="75.4" r="1.3"/><circle cx="213.9" cy="83.5" r="1.3"/><circle cx="218.6" cy="55.5" r="1.3"/><circle cx="222.3" cy="69.0" r="1.3"/><circle cx="223.5" cy="66.2" r="1.3"/><circle cx="224.3" cy="63.4" r="1.3"/><circle cx="225.9" cy="59.7" r="1.3"/><circle cx="225.0" cy="62.5" r="1.3"/><circle cx="211.3" cy="67.0" r="1.3"/><circle cx="210.9" cy="70.3" r="1.3"/><circle cx="210.5" cy="76.7" r="1.3"/><circle cx="208.1" cy="80.8" r="1.3"/><circle cx="229.2" cy="76.3" r="1.3"/><circle cx="229.6" cy="79.6" r="1.3"/><circle cx="226.9" cy="84.1" r="1.3"/><circle cx="248.9" cy="78.7" r="1.3"/><circle cx="234.1" cy="91.1" r="1.3"/><circle cx="228.5" cy="101.4" r="1.3"/><circle cx="222.5" cy="99.6" r="1.3"/><circle cx="235.8" cy="110.1" r="1.3"/><circle cx="234.1" cy="105.1" r="1.3"/><circle cx="231.9" cy="83.1" r="1.3"/><circle cx="234.3" cy="91.2" r="1.3"/><circle cx="227.8" cy="83.9" r="1.3"/><circle cx="214.5" cy="97.6" r="1.3"/><circle cx="214.5" cy="104.9" r="1.3"/><circle cx="214.1" cy="88.8" r="1.3"/><circle cx="208.8" cy="89.1" r="1.3"/><circle cx="202.6" cy="87.0" r="1.3"/><circle cx="198.9" cy="86.3" r="1.3"/><circle cx="197.8" cy="103.0" r="1.3"/><circle cx="202.7" cy="87.4" r="1.3"/><circle cx="222.6" cy="99.8" r="1.3"/></g>
<g fill="none" stroke-width="0.62" stroke-linejoin="round"><path d="M398.5,80.5 L398.6,81.3 L400.5,79.9 L401.2,80.6 L403.4,80.8 L404.6,81.0" stroke="#111"/><path d="M398.5,80.5 L400.2,81.2 L397.7,82.6 L398.8,83.8 L398.7,83.1 L399.8,84.7 L399.7,84.7 L400.6,84.4 L400.9,85.1 L401.4,85.7" stroke="#111"/><path d="M398.5,80.5 L398.1,80.3 L397.9,81.1 L399.1,79.1 L397.8,78.7 L397.9,80.6 L397.1,79.6 L396.6,79.0 L396.8,78.9" stroke="#111"/><path d="M398.5,80.5 L397.1,81.8 L398.0,79.7 L397.5,82.6 L398.9,80.9 L399.5,81.9 L398.7,82.3 L399.0,83.1" stroke="#111"/><path d="M398.5,80.5 L397.7,80.2 L397.8,82.3 L397.5,85.2 L397.6,86.0" stroke="#111"/><path d="M398.5,80.5 L396.5,80.9 L397.3,79.6 L397.7,79.2 L397.3,79.0" stroke="#111"/><path d="M398.5,80.5 L397.4,80.4 L397.5,81.9 L397.6,82.8 L396.3,83.9 L396.4,84.7" stroke="#111"/><path d="M398.5,80.5 L399.2,80.8 L400.8,81.9 L399.5,81.7 L399.6,81.0 L399.0,81.4 L398.2,81.5 L399.2,81.5 L399.4,81.9 L399.5,82.0" stroke="#111"/><path d="M398.5,80.5 L396.6,79.0 L400.9,78.9 L401.5,82.0 L400.6,79.1 L400.9,81.3 L402.7,79.9 L403.7,80.7 L404.4,80.0 L404.8,80.0" stroke="#111"/><path d="M398.5,80.5 L401.1,80.7 L400.8,79.6 L400.0,81.7 L402.1,80.8 L402.5,81.1" stroke="#111"/><path d="M398.5,80.5 L397.8,83.6 L398.7,82.2 L400.1,83.8 L399.6,86.3 L399.8,87.0 L400.3,88.4" stroke="#111"/><path d="M398.5,80.5 L400.0,79.2 L401.0,82.8 L399.2,79.7 L400.3,80.2 L401.2,81.4 L400.9,81.6 L401.4,81.5" stroke="#111"/><path d="M398.5,80.5 L397.0,79.0 L397.7,80.6 L398.1,81.5 L396.3,82.9 L397.7,83.3 L396.8,83.1 L396.4,83.9" stroke="#111"/><path d="M398.5,80.5 L400.3,80.3 L401.5,80.3 L399.8,80.6 L400.5,82.9 L400.6,82.6 L401.5,83.3" stroke="#111"/><path d="M398.5,80.5 L400.8,80.8 L396.3,78.1 L399.9,77.8 L399.1,77.2 L398.9,77.3 L398.6,76.7 L398.4,76.0 L398.1,75.8" stroke="#111"/><path d="M398.5,80.5 L396.5,78.6 L396.8,81.7 L396.3,79.1 L396.5,80.7 L394.6,80.7 L393.3,80.7 L392.9,81.2 L391.9,81.6" stroke="#111"/><path d="M398.5,80.5 L397.2,78.4 L401.3,79.8 L402.9,80.1 L403.3,81.5 L404.5,81.9 L405.2,82.0" stroke="#111"/><path d="M398.5,80.5 L400.4,81.1 L400.6,81.2 L397.4,81.4 L397.6,78.1 L399.1,80.1 L399.0,77.8 L398.4,77.9 L398.8,77.5 L398.6,77.4" stroke="#111"/><path d="M398.5,80.5 L399.8,82.0 L401.4,79.4 L403.0,79.8 L403.7,78.2 L404.7,77.6 L405.9,77.4" stroke="#111"/><path d="M398.5,80.5 L398.1,80.7 L395.6,81.6 L397.6,81.9 L396.3,79.5 L395.0,80.2 L394.4,80.4" stroke="#111"/><path d="M398.5,80.5 L400.6,82.0 L402.0,79.7 L400.5,80.2 L402.0,79.4 L404.2,79.1 L405.0,78.7" stroke="#111"/><path d="M398.5,80.5 L397.2,81.3 L398.9,80.5 L398.1,79.5 L399.2,79.1 L398.1,80.0 L398.4,78.6 L398.2,78.7" stroke="#111"/><path d="M398.5,80.5 L397.2,81.7 L395.5,79.4 L397.9,79.2 L397.3,81.1 L396.1,80.1 L395.4,80.5" stroke="#111"/><path d="M398.5,80.5 L399.0,82.7 L398.8,80.3 L399.1,77.4 L398.6,80.1 L396.3,77.2 L397.4,78.6 L396.5,77.1 L396.4,77.1 L395.8,76.4" stroke="#111"/><path d="M398.5,80.5 L396.2,79.7 L395.5,79.7 L395.3,81.7 L392.2,81.9 L391.3,82.7" stroke="#111"/><path d="M398.5,80.5 L397.5,79.4 L401.2,80.2 L402.3,81.2 L403.1,81.7" stroke="#111"/><path d="M398.5,80.5 L398.8,77.7 L398.0,80.3 L398.9,80.2 L399.2,78.5 L397.9,77.8 L398.3,78.0 L397.9,77.4" stroke="#111"/><path d="M398.5,80.5 L397.7,79.5 L398.1,82.1 L398.3,83.2 L398.8,84.9 L398.5,86.6" stroke="#111"/><path d="M398.5,80.5 L400.3,81.3 L396.7,82.3 L398.2,85.0 L398.1,85.8 L397.4,87.1" stroke="#111"/><path d="M398.5,80.5 L398.2,82.8 L397.7,81.6 L397.2,84.1 L395.2,85.4 L394.6,86.5" stroke="#111"/><path d="M398.5,80.5 L397.9,77.2 L396.9,77.8 L398.2,76.8 L395.6,79.3 L395.4,78.0 L394.5,77.1 L394.3,75.8 L393.7,75.1" stroke="#111"/><path d="M398.5,80.5 L401.8,79.4 L401.7,81.4 L402.1,82.0 L402.9,80.6 L404.4,81.3 L406.0,80.9" stroke="#111"/><path d="M398.5,80.5 L398.8,80.0 L398.8,83.3 L400.6,83.7 L401.6,81.7 L400.4,83.1 L401.9,83.3 L402.9,83.5 L403.1,84.3" stroke="#111"/><path d="M398.5,80.5 L399.8,80.0 L399.0,81.6 L397.3,80.8 L398.4,80.8 L397.7,80.2 L399.2,81.5 L399.1,80.6 L398.8,81.0 L398.6,80.8" stroke="#111"/><path d="M398.5,80.5 L399.1,82.4 L397.4,81.1 L398.3,80.6 L397.6,81.9 L395.1,82.5 L395.3,82.5 L394.8,82.9" stroke="#111"/><path d="M398.5,80.5 L396.4,78.1 L396.8,80.5 L398.1,82.7 L395.2,79.9 L394.4,82.0 L393.5,82.4 L392.9,81.7 L392.4,82.2 L391.5,82.4" stroke="#111"/><path d="M398.5,80.5 L400.4,80.8 L397.1,81.4 L399.3,81.0 L398.2,82.1 L398.2,81.9" stroke="#111"/><path d="M398.5,80.5 L397.0,78.5 L396.5,82.4 L398.2,82.1 L397.2,81.1 L395.6,82.2 L394.4,81.4 L394.7,82.1 L394.1,83.0 L393.8,83.2" stroke="#111"/><path d="M398.5,80.5 L399.1,81.2 L399.3,83.7 L398.7,83.5 L399.6,83.1 L400.1,84.2" stroke="#111"/><path d="M398.5,80.5 L398.1,80.9 L398.5,82.5 L400.6,81.8 L401.3,83.8 L400.6,84.9 L401.5,85.8" stroke="#111"/><path d="M398.5,80.5 L398.0,78.0 L399.6,81.3 L400.2,80.5 L402.2,79.2 L402.8,78.8" stroke="#111"/><path d="M398.5,80.5 L401.8,80.7 L402.4,81.0 L403.9,80.6 L406.1,81.4" stroke="#111"/><path d="M398.5,80.5 L399.0,79.0 L399.8,81.4 L399.8,81.6 L400.9,82.0" stroke="#111"/><path d="M398.5,80.5 L399.4,83.0 L399.3,80.7 L398.0,83.1 L399.8,81.5 L399.3,83.4 L399.3,84.0 L399.3,84.4" stroke="#111"/><path d="M398.5,80.5 L400.8,82.4 L396.8,81.3 L398.1,80.1 L399.1,80.4 L398.6,80.6 L398.6,81.5 L399.8,81.3 L399.6,81.5" stroke="#111"/><path d="M398.5,80.5 L399.7,83.4 L401.5,82.5 L401.4,81.2 L402.9,81.6 L403.8,82.8 L404.6,83.3 L407.7,84.2 L408.6,86.0 L409.9,85.2 L409.9,85.3 L409.9,85.1 L409.6,83.0 L409.6,82.1 L410.1,81.3 L410.2,81.4 L410.5,83.0 L412.9,84.4" stroke="#2a2a2a"/><path d="M398.5,80.5 L396.7,81.1 L394.5,82.5 L392.5,83.4 L392.0,81.7 L391.9,81.2 L392.1,79.5 L393.7,78.0 L395.8,77.7 L398.3,77.7 L399.1,77.3 L399.4,75.8 L398.0,75.6 L395.8,75.7 L394.5,76.9 L393.5,77.8 L392.1,78.8" stroke="#2a2a2a"/><path d="M398.5,80.5 L399.0,80.3 L399.3,80.6 L400.0,81.1 L400.1,81.1 L401.4,81.9 L405.4,82.7 L407.4,81.6 L407.3,81.0 L404.5,80.5 L401.4,82.7 L397.9,81.4 L397.3,80.4 L398.6,80.3 L401.4,81.7 L404.1,81.7" stroke="#2a2a2a"/><path d="M398.5,80.5 L399.1,80.9 L400.4,80.6 L401.2,80.9 L402.4,81.2 L403.9,82.7 L405.2,82.6 L407.6,82.8 L409.3,83.3 L409.2,84.3 L409.5,84.1 L410.5,83.0 L412.1,83.0 L412.3,83.8" stroke="#2a2a2a"/><path d="M398.5,80.5 L398.0,79.4 L396.7,79.5 L394.5,80.0 L393.6,79.5 L391.8,78.8 L391.7,78.9 L390.9,79.0 L388.4,79.6" stroke="#2a2a2a"/><path d="M398.5,80.5 L401.0,79.4 L403.8,77.4 L402.6,76.6 L400.7,75.5 L399.0,75.3 L397.6,76.6 L397.4,79.3 L396.9,80.9 L395.5,82.5 L394.9,83.4 L395.4,83.9 L397.2,83.5 L396.7,83.1" stroke="#2a2a2a"/><path d="M398.5,80.5 L398.4,82.2 L395.7,82.4 L392.9,80.2 L390.7,79.8 L389.0,82.0 L388.6,83.2 L385.0,83.8 L384.8,84.5" stroke="#2a2a2a"/><path d="M398.5,80.5 L397.8,83.6 L400.3,84.2 L403.7,84.2 L404.3,85.1 L405.7,87.6 L404.5,88.2 L403.9,90.0 L401.2,90.2 L398.9,89.7 L397.6,88.5 L395.0,88.5 L392.6,87.5 L391.4,87.0 L390.5,85.0 L391.2,84.9" stroke="#2a2a2a"/><path d="M398.5,80.5 L398.4,78.8 L397.3,78.2 L396.4,77.0 L397.1,75.8 L399.9,73.9 L403.9,75.2 L405.7,74.0 L406.8,74.5 L408.6,75.0" stroke="#2a2a2a"/><path d="M398.5,80.5 L398.5,80.6 L398.1,80.2 L397.1,78.1 L397.1,77.2 L396.4,77.3 L395.4,76.4 L394.3,75.1 L391.8,74.0 L388.3,73.5 L387.6,73.9 L386.5,74.1 L385.6,74.8 L384.0,76.2 L383.9,76.3 L383.0,74.8" stroke="#2a2a2a"/><path d="M398.5,80.5 L396.3,80.7 L395.7,80.5 L395.1,79.9 L395.8,78.8 L395.0,77.7 L394.6,76.6 L392.8,75.8 L389.8,76.0 L388.9,76.2 L386.5,75.7 L385.7,75.7 L384.8,75.5 L383.8,75.3 L382.1,74.9" stroke="#2a2a2a"/><path d="M398.5,80.5 L398.5,80.6 L396.5,81.6 L395.5,83.0 L392.6,85.7 L391.7,85.8 L392.2,88.1 L392.7,88.7 L392.0,91.0 L392.2,92.3" stroke="#2a2a2a"/><path d="M398.5,80.5 L400.8,78.6 L399.2,76.0 L399.7,73.6 L402.0,72.8 L402.2,72.8 L402.9,72.7 L403.3,70.6 L402.9,70.1 L402.6,70.0 L403.0,69.0 L403.8,68.9 L404.1,66.6" stroke="#2a2a2a"/><path d="M398.5,80.5 L399.0,81.0 L399.8,81.3 L402.9,81.8 L403.9,82.6 L405.2,85.2 L405.1,86.6 L404.3,88.3 L405.5,88.8 L408.8,89.9 L410.0,91.4 L411.3,90.9 L410.8,89.5 L408.9,88.2 L407.5,87.3 L405.9,85.6" stroke="#2a2a2a"/><path d="M398.5,80.5 L399.6,79.0 L400.0,77.3 L399.8,75.9 L401.1,75.5 L402.5,74.9 L403.0,73.7 L403.8,73.2 L404.4,71.0 L403.3,70.0 L404.5,68.0 L405.1,66.1" stroke="#2a2a2a"/><path d="M398.5,80.5 L397.0,82.3 L397.2,84.1 L397.1,84.5 L393.4,86.3 L393.7,87.0 L395.4,87.4 L397.4,88.9 L396.2,90.7 L393.8,92.0 L392.4,93.8" stroke="#2a2a2a"/><path d="M398.5,80.5 L398.7,82.5 L397.3,84.8 L396.6,86.6 L396.4,86.8 L393.3,87.8 L391.2,87.5 L389.3,85.7 L388.4,86.5 L388.3,87.0 L387.6,87.6 L385.6,88.8 L385.2,88.7" stroke="#2a2a2a"/><path d="M398.5,80.5 L398.3,78.8 L395.7,79.6 L394.0,80.1 L392.6,79.1 L393.1,78.7 L394.4,77.9 L397.7,77.3 L398.9,75.9 L400.2,74.9 L398.4,74.2 L398.4,74.3 L395.5,75.1 L393.8,74.8 L395.9,76.8 L395.7,79.5 L395.6,80.5 L393.9,80.5" stroke="#2a2a2a"/><path d="M398.5,80.5 L399.6,79.3 L400.2,79.0 L401.3,78.3 L399.9,77.2 L399.0,76.5 L396.3,76.0 L398.2,77.6 L399.5,78.8 L400.9,79.4 L401.3,80.3 L400.7,80.5 L399.1,80.5 L399.1,78.5" stroke="#2a2a2a"/><path d="M398.5,80.5 L400.0,79.9 L401.8,81.4 L403.8,82.5 L404.6,84.4 L406.9,86.2 L407.5,87.7 L407.5,88.3 L407.3,88.3" stroke="#2a2a2a"/><path d="M398.5,80.5 L400.9,80.5 L399.8,79.7 L399.9,77.2 L401.2,76.6 L403.8,76.8 L405.2,79.4 L405.1,80.6 L405.6,81.7 L406.4,82.6 L407.0,84.2" stroke="#2a2a2a"/><path d="M398.5,80.5 L396.4,81.1 L397.1,83.7 L397.4,84.8 L396.3,85.6 L395.4,86.8 L393.0,91.0 L390.3,91.5 L389.3,91.2 L388.5,89.4 L388.5,88.7 L388.9,87.7 L388.0,86.0" stroke="#2a2a2a"/><path d="M398.5,80.5 L397.5,81.6 L395.9,81.9 L395.9,82.0 L395.9,82.3 L392.9,81.8 L392.8,80.1 L393.0,79.9 L393.3,79.5 L395.0,78.9 L395.6,79.6 L396.5,81.9" stroke="#2a2a2a"/><path d="M398.5,80.5 L397.1,79.6 L399.3,78.9 L400.9,77.7 L402.0,77.5 L403.2,77.4 L406.1,78.7 L407.8,79.0 L410.8,77.4 L409.9,75.7 L409.7,75.6" stroke="#2a2a2a"/><path d="M398.5,80.5 L398.8,79.7 L398.9,79.7 L400.7,78.9 L401.5,77.9 L402.4,78.2 L403.6,77.4 L404.9,76.7 L406.0,76.9 L408.6,76.8" stroke="#2a2a2a"/><path d="M398.5,80.5 L397.9,80.5 L397.1,80.3 L396.3,78.6 L396.3,78.5 L393.6,77.9 L392.5,78.1 L392.7,81.2 L394.9,82.5 L395.0,82.7" stroke="#2a2a2a"/><path d="M398.5,80.5 L400.3,81.1 L401.3,82.3 L402.5,83.5 L405.4,84.7 L406.6,83.6 L406.1,82.7 L404.2,80.0 L403.2,78.9 L402.7,78.0 L400.2,77.9 L398.9,77.3 L396.1,76.9" stroke="#2a2a2a"/><path d="M398.5,80.5 L398.8,83.3 L397.2,85.1 L395.9,86.4 L395.7,87.0 L393.8,87.3 L392.3,89.3 L395.5,91.6 L397.0,92.7 L397.7,95.0 L396.4,96.3 L397.2,97.0 L397.6,97.3 L398.9,97.6 L400.2,96.5 L400.9,94.4" stroke="#2a2a2a"/><path d="M398.5,80.5 L397.9,81.6 L397.1,84.6 L397.7,86.2 L397.0,87.0 L395.0,87.2 L392.8,88.1 L391.8,88.7 L390.3,86.9 L388.9,86.9 L388.5,86.3 L388.6,85.4 L387.9,83.4" stroke="#2a2a2a"/><path d="M398.5,80.5 L398.5,80.6 L397.7,80.2 L400.6,80.0 L403.3,79.2 L403.7,78.1 L404.0,76.5 L403.0,74.1 L404.6,73.1 L404.4,74.3 L405.0,75.8 L405.4,77.4 L406.3,77.8 L407.1,79.0 L408.9,79.0 L410.9,78.1 L411.3,75.5 L410.3,74.4" stroke="#2a2a2a"/><path d="M398.5,80.5 L399.9,79.2 L400.3,79.0 L404.1,79.9 L405.6,79.8 L407.3,80.1 L409.4,80.5 L410.5,79.8 L411.2,78.4" stroke="#2a2a2a"/><path d="M398.5,80.5 L396.1,79.2 L394.6,77.2 L394.1,76.9 L393.4,76.3 L392.3,75.8 L392.0,75.8 L391.3,77.6 L391.0,79.1 L390.1,81.1 L390.1,81.3 L390.1,84.6 L389.2,86.9 L388.3,87.7 L387.0,88.6 L385.4,91.3 L385.1,92.5 L386.6,93.6" stroke="#2a2a2a"/><path d="M398.5,80.5 L398.7,81.6 L399.4,82.4 L401.2,84.5 L401.6,85.9 L403.7,86.2 L403.8,87.6 L402.5,88.0 L404.2,89.9 L402.7,91.3 L400.9,92.0 L399.1,91.2" stroke="#2a2a2a"/><path d="M398.5,80.5 L399.3,80.3 L401.9,80.5 L404.5,79.4 L407.7,80.0 L410.5,80.8 L412.6,83.2 L409.8,82.6 L408.2,81.7 L406.2,82.0 L404.7,82.9 L403.8,84.3 L402.2,85.0 L400.2,85.9 L399.5,85.5 L399.2,85.3 L400.4,84.5 L402.8,84.3" stroke="#2a2a2a"/><path d="M398.5,80.5 L396.8,80.7 L395.0,81.8 L392.6,82.4 L391.9,83.0 L390.8,83.4 L390.7,83.4 L390.4,83.4 L387.5,83.7 L385.8,85.3" stroke="#2a2a2a"/><path d="M398.5,80.5 L396.8,80.2 L393.7,78.7 L389.9,77.7 L389.0,76.2 L390.4,74.5 L390.7,74.1 L391.9,73.8 L392.1,73.1 L392.7,71.4 L390.4,71.5 L388.9,71.5 L387.2,71.7 L386.0,71.1" stroke="#2a2a2a"/><path d="M398.5,80.5 L396.8,82.6 L396.7,82.5 L395.3,82.6 L395.7,83.3 L396.7,84.8 L398.1,83.9 L400.6,83.5 L401.1,82.9 L400.2,80.4 L400.4,80.1 L401.4,79.2 L401.2,77.3 L400.3,75.2 L401.4,74.8 L404.6,74.8 L405.8,74.4 L407.6,73.3 L406.5,71.7" stroke="#2a2a2a"/><path d="M398.5,80.5 L399.1,82.1 L399.1,82.5 L395.9,82.4 L395.1,83.2 L397.0,84.9 L399.3,85.3 L399.4,85.5 L400.7,86.9 L403.0,88.2 L403.0,90.7 L404.3,91.9 L404.6,92.3" stroke="#2a2a2a"/><path d="M398.5,80.5 L398.7,78.9 L398.8,78.3 L399.5,76.5 L397.7,74.9 L398.5,73.3 L396.1,73.0 L394.1,73.6 L392.8,74.5 L391.1,72.5 L389.6,72.4 L387.4,71.9 L385.4,72.9 L384.0,72.4 L381.6,73.2 L379.4,74.8" stroke="#2a2a2a"/><path d="M398.5,80.5 L399.6,80.5 L403.1,81.6 L404.8,83.0 L406.9,84.1 L407.8,85.6 L407.8,85.8 L406.2,88.7 L405.8,88.8 L404.2,89.0 L401.8,90.0 L398.6,88.7" stroke="#2a2a2a"/><path d="M398.5,80.5 L399.5,78.9 L401.4,77.3 L403.7,75.8 L405.0,73.5 L403.4,74.1 L402.2,75.3 L402.1,76.4 L400.9,76.7 L401.0,74.9 L400.4,73.6 L398.4,72.1 L397.2,72.1 L397.2,71.6 L397.7,71.1" stroke="#2a2a2a"/><path d="M398.5,80.5 L395.8,79.1 L395.0,78.6 L394.7,76.7 L393.2,75.7 L393.1,75.0 L393.3,74.5 L394.7,74.4 L395.5,73.1 L396.3,72.9 L397.3,71.9 L398.3,72.0 L399.3,73.3 L400.3,74.9 L402.8,76.2" stroke="#2a2a2a"/><path d="M398.5,80.5 L398.4,81.9 L397.8,83.8 L397.9,83.9 L397.3,84.8 L396.8,85.1 L393.3,86.5 L392.2,86.9 L390.6,87.7" stroke="#2a2a2a"/><path d="M398.5,80.5 L398.3,79.2 L400.6,78.1 L402.5,79.1 L400.6,79.4 L399.0,80.2 L397.9,81.3 L397.0,82.5 L396.2,83.6 L395.5,84.7" stroke="#2a2a2a"/><path d="M398.5,80.5 L398.0,81.6 L398.1,81.7 L397.6,81.8 L396.2,82.3 L394.4,83.5 L393.7,83.8 L392.8,86.2 L393.9,87.4 L397.6,87.3" stroke="#2a2a2a"/><path d="M398.5,80.5 L400.8,81.2 L402.8,81.9 L402.5,81.2 L402.7,79.9 L404.3,80.7 L406.7,81.7 L408.7,83.4 L410.4,83.8" stroke="#2a2a2a"/><path d="M398.5,80.5 L397.9,79.2 L395.3,78.3 L394.4,77.4 L396.1,77.2 L396.6,77.0 L397.9,76.0 L400.7,76.1 L403.1,75.5 L403.6,72.3 L402.1,72.4 L399.7,71.7 L398.7,71.6 L398.4,71.7 L395.9,70.5 L395.4,68.3 L395.7,68.2" stroke="#2a2a2a"/><path d="M398.5,80.5 L396.4,79.4 L397.1,77.0 L399.5,75.8 L400.6,73.8 L402.4,72.2 L402.7,70.9 L403.4,71.0 L405.0,71.7 L405.6,72.7 L408.0,74.0 L408.6,74.8 L411.3,74.8 L412.8,75.7" stroke="#2a2a2a"/><path d="M398.5,80.5 L397.3,81.5 L395.6,81.7 L395.3,82.4 L395.1,84.8 L393.4,85.5 L391.7,86.7 L391.2,88.3 L391.6,89.6 L390.5,91.0 L389.8,90.1 L386.4,88.7 L385.6,88.3 L384.2,88.8" stroke="#2a2a2a"/><path d="M398.5,80.5 L398.2,83.0 L399.7,84.4 L401.9,84.6 L404.5,83.9 L405.6,82.9 L405.1,80.7 L402.2,80.0 L399.4,79.8 L397.8,81.0 L399.4,81.9 L400.5,83.0 L400.6,83.6" stroke="#2a2a2a"/><path d="M398.5,80.5 L400.3,80.9 L400.7,79.0 L398.9,79.4 L397.7,81.4 L396.2,83.1 L396.6,83.9 L398.0,85.2 L400.1,85.3 L401.0,87.6 L404.1,87.4 L406.0,88.5" stroke="#2a2a2a"/><path d="M398.5,80.5 L396.4,80.0 L395.6,82.0 L395.2,82.2 L394.3,81.3 L392.6,79.9 L391.2,80.2 L387.4,79.1 L386.0,77.9 L385.2,75.7 L384.7,74.8 L384.4,72.2" stroke="#2a2a2a"/><path d="M398.5,80.5 L398.6,79.0 L396.8,80.2 L396.8,80.3 L393.3,80.1 L394.4,77.7 L394.5,76.7 L394.5,76.3 L395.3,75.3 L397.1,75.8 L395.4,77.8 L394.5,78.3 L393.3,78.9 L391.9,78.9 L392.2,79.5 L392.9,80.0" stroke="#2a2a2a"/><path d="M398.5,80.5 L399.4,79.6 L399.2,78.9 L397.5,78.7 L396.5,80.5 L395.4,81.7 L393.1,83.6 L392.3,83.8 L390.7,85.0 L389.7,86.2 L387.4,88.5" stroke="#2a2a2a"/><path d="M398.5,80.5 L398.6,80.4 L398.6,80.5 L399.2,79.7 L399.2,77.8 L400.6,76.3 L400.6,75.4 L401.9,73.9 L401.7,73.1 L404.1,72.6 L404.9,71.5 L406.4,70.5 L408.6,71.2 L411.4,70.3 L411.9,68.8 L409.7,68.1 L407.4,67.1 L406.1,66.7" stroke="#2a2a2a"/><path d="M398.5,80.5 L396.6,82.8 L395.5,84.5 L396.6,85.4 L398.5,87.4 L399.6,88.3 L400.0,89.3 L401.6,90.1 L402.1,90.5 L404.4,90.8 L405.5,91.1 L407.6,91.5 L407.6,92.0" stroke="#2a2a2a"/><path d="M398.5,80.5 L397.6,80.1 L395.3,79.0 L392.7,78.7 L390.0,78.7 L388.4,78.3 L387.5,80.1 L386.8,81.3 L386.0,82.1 L386.0,82.9 L386.0,83.0 L384.9,83.6 L383.1,85.2 L380.9,85.7" stroke="#2a2a2a"/><path d="M398.5,80.5 L398.7,80.5 L399.4,80.6 L401.8,80.0 L401.0,77.8 L399.3,76.0 L398.5,75.0 L397.5,74.0 L395.4,72.1 L395.1,72.2 L395.0,72.5" stroke="#2a2a2a"/><path d="M398.5,80.5 L398.9,81.6 L399.2,83.3 L398.2,84.4 L396.4,83.7 L394.3,81.7 L394.9,79.9 L395.1,77.4 L395.3,77.2 L396.4,76.2 L394.9,75.4 L393.9,72.0" stroke="#2a2a2a"/><path d="M398.5,80.5 L399.7,80.9 L401.5,80.6 L402.2,81.0 L401.7,82.7 L400.2,85.3 L399.1,87.7 L399.3,88.7 L398.0,90.6 L395.8,89.6 L394.1,89.0 L392.3,89.8 L391.8,90.6 L390.7,91.9 L389.1,91.6 L386.9,92.1 L386.8,92.3 L386.1,93.5" stroke="#2a2a2a"/><path d="M398.5,80.5 L398.3,80.5 L395.9,79.9 L395.2,79.8 L392.8,79.0 L391.6,79.1 L390.6,79.6 L388.2,80.7 L387.0,81.0 L384.8,81.2" stroke="#2a2a2a"/><path d="M398.5,80.5 L401.8,81.3 L403.5,83.0 L403.6,83.2 L403.8,85.2 L406.7,85.3 L406.6,84.5 L404.7,84.1 L407.0,83.5 L407.5,81.7 L409.0,81.5 L409.4,83.7 L408.1,85.1" stroke="#2a2a2a"/><path d="M398.5,80.5 L398.4,82.3 L400.6,83.8 L402.9,84.9 L403.9,86.9 L404.3,89.6 L405.7,90.8 L405.9,90.8 L405.6,89.4 L404.7,89.0 L404.8,87.6 L407.1,86.9 L407.7,86.1 L407.4,85.8 L405.5,85.3 L404.7,83.8" stroke="#2a2a2a"/><path d="M398.5,80.5 L398.5,80.6 L399.7,79.2 L401.3,76.8 L402.3,77.4 L404.1,78.6 L406.0,80.6 L406.6,82.6 L404.3,83.8" stroke="#2a2a2a"/><path d="M398.5,80.5 L398.6,80.6 L400.0,82.3 L402.1,83.8 L403.6,85.3 L406.3,87.6 L406.4,87.9 L407.8,88.1 L409.7,87.2 L411.6,86.5 L411.9,85.2 L408.7,84.5" stroke="#2a2a2a"/><path d="M398.5,80.5 L399.0,81.5 L399.8,82.7 L401.6,84.2 L402.3,86.3 L401.8,88.5 L402.2,88.3 L404.7,86.6 L407.6,86.3 L408.3,88.3" stroke="#2a2a2a"/><path d="M398.5,80.5 L400.1,80.8 L401.5,81.4 L401.7,81.7 L399.1,82.4 L397.1,83.2 L396.7,83.6 L395.0,83.9 L392.5,83.7" stroke="#2a2a2a"/><path d="M398.5,80.5 L399.3,80.7 L400.1,81.0 L401.7,81.5 L404.1,82.2 L405.7,82.7 L405.6,81.7 L405.4,81.5 L404.9,79.3" stroke="#2a2a2a"/><path d="M398.5,80.5 L397.6,81.7 L401.0,80.6 L402.7,80.0 L402.8,79.2 L403.3,78.8 L404.7,77.7 L405.0,77.6 L408.8,77.7 L410.8,76.3 L413.7,77.0 L415.4,78.3 L414.5,78.8 L410.9,77.7 L410.1,79.0 L408.7,79.8" stroke="#2a2a2a"/><path d="M398.5,80.5 L400.4,82.8 L399.4,83.1 L398.7,85.1 L397.1,86.7 L394.6,86.4 L392.3,86.6 L391.0,88.3 L389.8,86.1 L391.0,84.1 L392.4,83.2 L395.8,82.4 L396.5,82.7 L396.9,83.2 L397.4,84.1 L397.4,84.2 L396.1,86.8 L393.9,87.7" stroke="#2a2a2a"/><path d="M398.5,80.5 L399.3,80.5 L401.9,80.1 L402.2,80.1 L404.4,79.7 L405.2,77.0 L403.1,76.4 L402.4,76.4 L401.5,77.8 L402.3,79.0 L402.0,79.6 L403.0,80.8 L406.6,80.5 L408.4,79.3 L409.4,78.5 L409.5,78.4 L407.3,77.4 L404.6,76.1 L404.7,74.6" stroke="#2a2a2a"/><path d="M398.5,80.5 L399.5,80.3 L400.2,80.0 L400.8,80.3 L401.7,81.6 L400.8,82.6 L401.7,80.3 L401.3,78.3 L398.7,78.2 L397.4,79.4 L396.1,79.5 L393.5,81.1" stroke="#2a2a2a"/><path d="M398.5,80.5 L399.1,79.0 L399.2,79.1 L400.3,77.5 L401.7,76.9 L402.9,77.8 L403.5,76.8 L406.3,76.3 L407.5,77.1 L409.9,76.9 L410.7,77.7 L410.9,78.4 L413.1,78.0" stroke="#2a2a2a"/><path d="M398.5,80.5 L400.8,81.0 L403.0,81.9 L403.2,82.6 L406.0,81.9 L406.8,79.8 L408.4,79.0 L409.3,77.7 L409.9,77.1" stroke="#2a2a2a"/><path d="M398.5,80.5 L396.2,80.7 L395.2,80.4 L394.8,78.0 L394.3,77.6 L394.0,76.7 L395.2,75.3 L397.1,75.7 L398.1,76.9 L397.6,76.8 L395.7,77.7" stroke="#2a2a2a"/><path d="M398.5,80.5 L400.1,80.3 L400.4,79.1 L400.3,77.5 L399.5,75.7 L400.6,75.5 L402.0,74.1 L403.3,74.4 L404.0,75.3 L406.3,76.6 L406.8,78.2 L405.7,80.0 L405.5,80.6 L406.3,81.8" stroke="#2a2a2a"/><path d="M398.5,80.5 L399.8,81.3 L400.2,81.5 L400.7,84.7 L398.8,86.5 L396.5,85.3 L395.9,84.6 L394.5,84.1 L393.8,85.3 L392.2,87.4 L391.9,90.0 L392.3,91.4 L392.8,92.0 L395.5,91.9 L396.3,91.6 L395.0,90.7 L394.2,91.0" stroke="#2a2a2a"/><path d="M398.5,80.5 L400.7,79.9 L402.6,80.6 L402.8,78.3 L402.2,76.7 L401.0,75.2 L400.7,73.8 L399.4,73.5 L397.5,73.9 L396.8,74.1 L395.0,76.0 L394.8,76.7 L393.8,78.0 L393.9,80.1" stroke="#2a2a2a"/><path d="M398.5,80.5 L400.5,79.8 L400.5,80.5 L399.9,80.7 L399.9,80.9 L399.4,81.4 L399.1,81.8 L396.7,81.7 L394.9,81.0 L393.9,79.9 L392.5,80.2 L390.6,79.2 L390.2,77.7 L387.6,75.5" stroke="#2a2a2a"/><path d="M398.5,80.5 L398.2,81.7 L397.5,82.4 L397.7,82.5 L398.1,81.4 L398.3,80.1 L400.1,79.3 L401.9,78.1 L404.5,76.5" stroke="#2a2a2a"/><path d="M398.5,80.5 L398.7,81.1 L402.2,80.7 L404.5,81.2 L408.1,83.1 L408.4,83.3 L408.4,84.6 L403.8,86.8 L404.1,83.9 L402.7,82.8 L402.3,82.7 L402.1,82.1 L402.5,81.1 L402.8,80.1 L403.9,78.9 L407.1,77.5 L409.7,77.7 L411.4,79.5 L411.8,79.8" stroke="#555"/><path d="M398.5,80.5 L398.0,78.7 L400.8,78.4 L404.4,79.2 L404.9,81.7 L406.4,83.2 L408.2,84.1 L411.8,84.7 L412.6,84.9 L416.0,86.1 L417.7,84.4" stroke="#555"/><path d="M398.5,80.5 L398.2,80.7 L396.9,81.3 L395.4,80.3 L392.1,79.9 L387.8,79.5 L385.9,80.0 L384.4,81.1 L382.0,81.8 L383.4,84.3 L383.6,84.8 L381.9,86.6 L379.6,88.1 L382.1,89.0 L386.3,88.7" stroke="#555"/><path d="M398.5,80.5 L394.6,80.8 L391.6,79.7 L389.0,80.9 L386.6,82.1 L386.0,83.7 L384.0,84.6 L384.5,85.7 L384.9,87.0 L384.9,89.0 L385.2,89.6 L385.5,90.8 L385.3,91.1 L384.6,91.9 L385.4,92.2 L383.3,95.2 L383.0,97.3 L384.0,98.1" stroke="#555"/><path d="M398.5,80.5 L395.0,81.6 L392.3,82.1 L392.6,83.8 L393.2,86.3 L395.6,87.1 L398.9,88.8 L402.8,89.3 L403.6,89.5 L403.9,89.8 L406.0,90.3 L406.7,91.1 L407.3,92.4 L408.4,92.8 L408.6,93.3 L408.4,94.0 L406.6,94.2 L404.1,91.3 L402.2,89.5" stroke="#555"/><path d="M398.5,80.5 L392.9,79.9 L392.1,79.3 L387.7,80.1 L385.6,81.4 L385.6,81.5 L384.4,83.6 L384.5,85.5 L383.0,87.7 L382.8,88.1 L382.6,89.2 L380.6,89.6 L380.3,89.5 L376.2,89.6 L375.6,89.9 L378.5,92.1 L380.2,93.8 L381.0,93.8 L380.7,90.3 L378.7,89.4" stroke="#555"/><path d="M398.5,80.5 L397.1,82.0 L395.7,82.8 L393.8,83.4 L392.8,85.3 L390.2,85.7 L392.1,84.2 L392.5,84.4 L394.4,85.5 L395.7,87.3 L397.9,88.2 L398.3,90.5 L396.9,91.4" stroke="#555"/><path d="M398.5,80.5 L396.9,79.4 L395.2,78.5 L394.4,78.7 L393.7,78.6 L394.2,77.0 L394.4,75.3 L393.4,74.7 L393.2,74.5 L394.6,73.2 L397.8,72.0" stroke="#555"/><path d="M398.5,80.5 L400.9,79.1 L399.1,78.9 L396.9,78.3 L393.7,78.0 L392.4,78.9 L390.4,78.1 L389.2,76.2 L389.1,75.2 L391.0,73.7 L390.4,72.7 L389.3,72.2 L387.0,73.1 L384.4,72.5 L381.1,72.9" stroke="#555"/><path d="M398.5,80.5 L399.7,80.5 L401.9,80.0 L403.3,80.4 L403.4,79.2 L399.1,78.1 L401.4,76.5 L402.9,75.1 L403.9,74.7 L403.5,73.5 L408.6,73.0 L407.9,72.4 L410.4,71.7" stroke="#555"/><path d="M398.5,80.5 L397.1,80.1 L392.5,80.9 L390.0,82.2 L388.6,82.9 L387.7,84.0 L386.1,86.8 L384.0,88.2 L383.2,90.3 L381.3,91.3 L379.3,91.5 L381.0,93.4 L381.1,93.5 L381.8,93.5 L384.5,93.6 L387.6,92.2 L391.9,92.4 L394.0,92.7 L396.1,93.3 L394.2,91.5" stroke="#555"/><path d="M398.5,80.5 L401.1,79.6 L399.7,77.4 L397.4,76.7 L395.9,76.4 L394.4,75.7 L394.3,75.2 L392.7,73.9 L394.2,75.7 L391.0,76.6 L389.1,77.2 L388.1,77.4 L385.5,78.3 L383.2,79.3 L382.1,79.8" stroke="#555"/><path d="M398.5,80.5 L397.5,82.6 L396.7,83.6 L394.8,85.2 L393.7,87.6 L389.3,85.8 L388.8,83.6 L387.4,82.0 L387.5,81.8 L388.1,80.6 L388.6,79.2 L387.8,79.0 L385.5,77.9 L384.6,77.5 L383.4,75.8 L383.2,75.8 L380.4,74.8 L380.3,74.6" stroke="#555"/><path d="M398.5,80.5 L394.9,80.5 L395.0,80.5 L398.1,78.9 L401.1,77.9 L405.6,77.0 L406.4,76.6 L412.2,78.4 L414.7,78.3 L417.9,79.4 L418.8,81.0 L417.3,82.3 L414.4,82.7 L412.5,83.8" stroke="#555"/><path d="M398.5,80.5 L396.7,81.4 L395.6,82.4 L395.4,82.0 L396.2,79.8 L397.8,78.1 L400.7,77.8 L402.7,77.7 L403.5,77.5 L401.6,76.3 L402.5,75.5 L399.5,75.2 L397.7,74.8 L396.0,75.2 L392.7,75.5 L390.7,76.6 L389.4,77.9 L386.8,79.3 L382.8,80.1 L380.6,80.3 L378.0,78.8" stroke="#555"/><path d="M398.5,80.5 L397.8,79.9 L397.2,79.5 L395.9,77.9 L397.3,77.6 L399.2,77.9 L400.7,76.9 L403.7,76.0 L407.3,74.9 L406.5,73.1 L407.9,72.9 L411.1,72.8 L416.6,72.0 L420.5,73.7" stroke="#555"/><path d="M398.5,80.5 L401.3,81.4 L399.7,83.3 L400.0,83.7 L403.0,85.2 L404.9,84.1 L406.2,83.8 L406.7,85.7 L406.6,86.2 L405.8,87.1 L405.4,89.2 L404.4,91.1" stroke="#555"/><path d="M398.5,80.5 L401.0,79.7 L401.2,79.4 L400.4,77.8 L400.7,76.1 L399.7,74.3 L396.5,74.7 L392.1,75.3 L388.0,75.9 L388.8,77.7 L388.7,78.5 L386.0,79.8 L386.0,80.3 L384.3,82.2 L383.5,84.0" stroke="#555"/><path d="M398.5,80.5 L395.4,80.6 L393.8,79.7 L395.0,78.4 L395.6,77.8 L399.1,77.7 L400.1,78.2 L398.7,80.1 L398.6,81.4 L400.1,82.6 L399.2,84.8 L402.2,86.7" stroke="#555"/><path d="M398.5,80.5 L402.5,80.9 L406.7,79.3 L406.9,79.3 L410.0,79.1 L411.3,80.1 L411.5,81.4 L410.9,81.8 L411.2,82.5 L412.7,83.6 L409.0,84.1 L405.9,84.2 L403.9,85.9 L400.6,86.1 L399.3,85.7 L399.0,85.6 L397.2,83.3" stroke="#555"/><path d="M398.5,80.5 L396.7,78.8 L391.7,78.5 L391.4,78.5 L390.3,78.5 L386.8,78.7 L382.9,78.0 L381.9,77.9 L379.4,77.9 L376.7,77.9 L373.2,77.4" stroke="#555"/><path d="M398.5,80.5 L401.4,79.1 L401.3,78.2 L400.8,77.5 L398.0,77.5 L396.4,76.9 L392.6,76.6 L391.8,76.1 L390.3,74.4 L391.1,73.3 L394.3,72.9 L397.3,73.6 L397.0,75.2 L393.7,75.6 L391.1,75.9 L389.0,76.0 L388.2,74.1 L389.5,72.9 L391.9,72.5 L391.9,71.6 L392.3,70.5" stroke="#555"/><path d="M398.5,80.5 L399.4,80.8 L400.7,81.7 L401.5,81.8 L405.4,82.9 L405.8,84.9 L405.9,85.1 L409.7,86.9 L411.5,87.9 L413.6,87.8 L417.1,87.8" stroke="#555"/><path d="M398.5,80.5 L398.6,81.4 L398.2,82.9 L396.4,82.1 L394.2,81.3 L392.5,81.8 L391.9,82.2 L391.6,82.9 L389.9,84.7 L392.2,86.4 L393.0,87.8 L394.2,88.8 L398.6,89.8 L400.3,90.7 L402.7,90.0 L403.8,88.2 L401.8,86.4 L401.1,85.3" stroke="#555"/><path d="M398.5,80.5 L400.1,82.0 L402.8,83.0 L401.8,81.0 L401.7,81.0 L398.3,79.5 L398.2,78.8 L398.4,75.9 L397.7,75.2 L396.0,75.8 L392.5,76.5 L389.6,75.3 L385.4,75.9 L386.7,77.9 L391.5,77.5" stroke="#555"/><path d="M398.5,80.5 L393.5,78.5 L388.6,77.5 L378.5,66.5 L368.5,61.0 L362.5,56.7" stroke="#2a2a2a"/><path d="M398.5,80.5 L390.5,76.5 L377.5,64.3 L370.4,60.8 L365.3,66.8" stroke="#555"/><path d="M398.5,80.5 L394.5,72.5 L391.0,73.5 L389.6,62.8" stroke="#2a2a2a"/><path d="M398.5,80.5 L393.5,76.5 L387.6,71.4" stroke="#2a2a2a"/><path d="M398.5,80.5 L390.5,78.5 L384.5,76.5 L379.5,79.5 L375.5,76.5 L370.4,79.0" stroke="#555"/><path d="M398.5,80.5 L389.5,74.5 L384.5,70.5 L378.5,68.5 L374.5,72.5 L371.5,70.5 L368.5,75.5" stroke="#666"/><path d="M398.5,80.5 L386.5,73.5 L381.5,67.5 L378.5,72.5 L376.5,74.5 L372.5,76.5" stroke="#666"/><path d="M398.5,80.5 L390.5,81.5 L382.0,82.5" stroke="#2a2a2a"/><path d="M398.5,80.5 L391.5,86.5 L384.5,92.6" stroke="#2a2a2a"/><path d="M398.5,80.5 L390.5,90.5 L385.0,97.7" stroke="#2a2a2a"/><path d="M398.5,80.5 L389.5,92.5 L380.3,102.6" stroke="#2a2a2a"/><path d="M398.5,80.5 L396.5,72.5 L395.2,66.8" stroke="#2a2a2a"/><path d="M398.5,80.5 L402.5,72.5 L405.8,63.9 L409.1,57.2" stroke="#2a2a2a"/><path d="M398.5,80.5 L403.5,72.5 L408.0,66.1" stroke="#2a2a2a"/><path d="M398.5,80.5 L408.5,76.5 L414.5,72.5 L420.2,71.5" stroke="#2a2a2a"/><path d="M398.5,80.5 L410.5,77.5 L423.0,75.0" stroke="#2a2a2a"/><path d="M398.5,80.5 L410.5,79.5 L422.6,78.9" stroke="#2a2a2a"/><path d="M398.5,80.5 L408.5,78.5 L417.5,77.8" stroke="#2a2a2a"/><path d="M398.5,80.5 L406.5,86.5 L413.0,90.6" stroke="#2a2a2a"/><path d="M398.5,80.5 L408.5,88.5 L414.0,91.5 L420.5,93.0 L425.5,88.5 L428.5,89.5 L429.0,95.5 L434.7,96.2" stroke="#555"/><path d="M398.5,80.5 L410.5,86.5 L418.5,89.5 L424.5,91.5 L430.5,93.5 L433.6,100.7" stroke="#555"/><path d="M398.5,80.5 L406.5,88.5 L411.5,92.5 L418.0,102.9" stroke="#2a2a2a"/><path d="M398.5,80.5 L408.5,90.5 L414.5,95.5 L421.5,103.5" stroke="#555"/><path d="M398.5,80.5 L399.5,89.5 L401.3,98.4" stroke="#2a2a2a"/><path d="M398.5,80.5 L403.5,90.5 L408.5,94.5 L414.5,99.5 L417.5,102.6" stroke="#444"/><path d="M398.5,80.5 L408.5,74.5 L416.5,71.5 L420.5,69.5 L424.5,72.5" stroke="#666"/><path d="M398.5,80.5 L406.5,83.5 L412.5,86.5 L418.5,84.5 L425.5,86.5" stroke="#666"/><path d="M398.5,80.5 L394.5,86.5 L390.5,89.5 L388.5,94.5" stroke="#2a2a2a"/></g>
<g fill="#000"><circle cx="404.6" cy="81.0" r="1.25"/><circle cx="397.6" cy="86.0" r="1.25"/><circle cx="397.3" cy="79.0" r="1.25"/><circle cx="396.4" cy="84.7" r="1.25"/><circle cx="399.5" cy="82.0" r="1.25"/><circle cx="400.3" cy="88.4" r="1.25"/><circle cx="401.4" cy="81.5" r="1.25"/><circle cx="401.5" cy="83.3" r="1.25"/><circle cx="398.1" cy="75.8" r="1.25"/><circle cx="405.2" cy="82.0" r="1.25"/><circle cx="398.6" cy="77.4" r="1.25"/><circle cx="394.4" cy="80.4" r="1.25"/><circle cx="405.0" cy="78.7" r="1.25"/><circle cx="403.1" cy="81.7" r="1.25"/><circle cx="397.9" cy="77.4" r="1.25"/><circle cx="397.4" cy="87.1" r="1.25"/><circle cx="394.6" cy="86.5" r="1.25"/><circle cx="393.7" cy="75.1" r="1.25"/><circle cx="406.0" cy="80.9" r="1.25"/><circle cx="403.1" cy="84.3" r="1.25"/><circle cx="394.8" cy="82.9" r="1.25"/><circle cx="391.5" cy="82.4" r="1.25"/><circle cx="398.2" cy="81.9" r="1.25"/><circle cx="393.8" cy="83.2" r="1.25"/><circle cx="400.1" cy="84.2" r="1.25"/><circle cx="401.5" cy="85.8" r="1.25"/><circle cx="402.8" cy="78.8" r="1.25"/><circle cx="406.1" cy="81.4" r="1.25"/><circle cx="399.3" cy="84.4" r="1.25"/><circle cx="399.6" cy="81.5" r="1.25"/><circle cx="412.3" cy="83.8" r="1.25"/><circle cx="408.6" cy="75.0" r="1.25"/><circle cx="383.0" cy="74.8" r="1.25"/><circle cx="382.1" cy="74.9" r="1.25"/><circle cx="393.9" cy="80.5" r="1.25"/><circle cx="388.0" cy="86.0" r="1.25"/><circle cx="411.2" cy="78.4" r="1.25"/><circle cx="386.6" cy="93.6" r="1.25"/><circle cx="398.6" cy="88.7" r="1.25"/><circle cx="390.6" cy="87.7" r="1.25"/><circle cx="397.6" cy="87.3" r="1.25"/><circle cx="384.2" cy="88.8" r="1.25"/><circle cx="380.9" cy="85.7" r="1.25"/><circle cx="408.7" cy="84.5" r="1.25"/><circle cx="404.9" cy="79.3" r="1.25"/><circle cx="394.2" cy="91.0" r="1.25"/><circle cx="387.6" cy="75.5" r="1.25"/><circle cx="411.8" cy="79.8" r="1.25"/><circle cx="417.7" cy="84.4" r="1.25"/><circle cx="386.3" cy="88.7" r="1.25"/><circle cx="402.2" cy="89.5" r="1.25"/><circle cx="396.9" cy="91.4" r="1.25"/><circle cx="397.8" cy="72.0" r="1.25"/><circle cx="381.1" cy="72.9" r="1.25"/><circle cx="394.2" cy="91.5" r="1.25"/><circle cx="382.1" cy="79.8" r="1.25"/><circle cx="380.3" cy="74.6" r="1.25"/><circle cx="420.5" cy="73.7" r="1.25"/><circle cx="402.2" cy="86.7" r="1.25"/><circle cx="392.3" cy="70.5" r="1.25"/><circle cx="417.1" cy="87.8" r="1.25"/><circle cx="362.5" cy="56.7" r="1.25"/><circle cx="365.3" cy="66.8" r="1.25"/><circle cx="389.6" cy="62.8" r="1.25"/><circle cx="387.6" cy="71.4" r="1.25"/><circle cx="370.4" cy="79.0" r="1.25"/><circle cx="382.0" cy="82.5" r="1.25"/><circle cx="384.5" cy="92.6" r="1.25"/><circle cx="385.0" cy="97.7" r="1.25"/><circle cx="380.3" cy="102.6" r="1.25"/><circle cx="395.2" cy="66.8" r="1.25"/><circle cx="409.1" cy="57.2" r="1.25"/><circle cx="408.0" cy="66.1" r="1.25"/><circle cx="420.2" cy="71.5" r="1.25"/><circle cx="423.0" cy="75.0" r="1.25"/><circle cx="422.6" cy="78.9" r="1.25"/><circle cx="417.5" cy="77.8" r="1.25"/><circle cx="413.0" cy="90.6" r="1.25"/><circle cx="434.7" cy="96.2" r="1.25"/><circle cx="433.6" cy="100.7" r="1.25"/><circle cx="418.0" cy="102.9" r="1.25"/><circle cx="401.3" cy="98.4" r="1.25"/><circle cx="417.5" cy="102.6" r="1.25"/><circle cx="388.5" cy="94.5" r="1.25"/></g>
<g fill="none" stroke-width="0.7" stroke-linejoin="round"><path d="M82.5,235.5 L79.4,234.8 L77.3,235.1 L75.6,235.6" stroke="#111"/><path d="M82.5,235.5 L83.0,236.1 L83.4,234.5 L82.9,234.2 L83.0,234.4 L83.7,233.9 L83.9,233.8" stroke="#111"/><path d="M82.5,235.5 L81.0,236.8 L79.3,235.6 L78.3,236.1" stroke="#111"/><path d="M82.5,235.5 L82.4,234.7 L81.6,233.4 L80.4,231.7" stroke="#111"/><path d="M82.5,235.5 L81.9,236.0 L82.0,234.2 L81.7,234.8 L79.9,233.2 L79.9,232.8 L79.6,232.7" stroke="#111"/><path d="M82.5,235.5 L82.1,234.7 L81.5,234.2 L82.3,234.8 L82.0,233.9" stroke="#111"/><path d="M82.5,235.5 L83.1,233.8 L80.1,234.6 L79.9,234.5 L79.8,234.4 L79.0,233.8" stroke="#111"/><path d="M82.5,235.5 L82.2,236.3 L81.8,235.0 L83.1,234.4 L84.2,234.5 L83.6,233.9 L83.9,233.9 L84.3,233.9" stroke="#111"/><path d="M82.5,235.5 L82.6,234.6 L80.9,236.2 L79.4,235.6 L79.2,234.3 L78.0,234.8 L77.2,235.0 L76.6,234.7" stroke="#111"/><path d="M82.5,235.5 L82.6,234.0 L78.8,235.8 L78.6,234.6 L77.6,233.9 L76.2,233.6" stroke="#111"/><path d="M82.5,235.5 L81.6,235.8 L78.6,234.3 L78.2,234.0 L76.7,233.9" stroke="#111"/><path d="M82.5,235.5 L80.8,236.8 L81.9,234.9 L82.7,234.8 L82.0,234.8 L81.7,236.1 L81.8,235.7 L81.3,235.6" stroke="#111"/><path d="M82.5,235.5 L82.0,236.5 L81.9,234.7 L80.3,235.8 L79.7,235.4" stroke="#111"/><path d="M82.5,235.5 L82.6,236.3 L80.2,236.5 L80.2,235.1 L79.8,235.4 L78.7,235.3" stroke="#111"/><path d="M82.5,235.5 L81.8,234.4 L79.8,235.9 L79.9,234.4 L78.4,234.4 L77.5,234.1" stroke="#111"/><path d="M82.5,235.5 L82.4,234.3 L79.9,234.5 L79.7,233.4 L78.6,233.0" stroke="#111"/><path d="M82.5,235.5 L80.4,234.1 L80.6,235.3 L81.6,233.7 L80.0,233.9 L80.0,233.9 L79.3,234.1 L78.7,234.0" stroke="#111"/><path d="M82.5,235.5 L82.6,234.0 L79.6,235.2 L79.1,234.6" stroke="#111"/><path d="M82.5,235.5 L81.2,236.4 L80.1,236.1 L80.2,234.6 L80.8,235.0 L80.8,235.0 L81.9,234.9 L82.6,235.2" stroke="#1a1a1a"/><path d="M82.5,235.5 L81.8,236.3 L80.9,237.0 L80.0,238.3 L79.6,239.0 L79.2,240.1 L79.9,241.9 L79.9,242.1 L80.5,241.7 L80.4,241.4 L80.3,240.9" stroke="#1a1a1a"/><path d="M82.5,235.5 L83.1,235.8 L84.0,235.9 L84.2,235.1 L84.2,233.8 L84.4,233.2 L84.3,232.3 L82.5,232.2 L81.5,232.4" stroke="#1a1a1a"/><path d="M82.5,235.5 L82.1,235.2 L81.4,234.5 L80.3,233.5 L79.5,232.9 L79.7,232.6 L79.5,232.1 L79.4,230.9 L79.4,229.3 L79.9,228.8 L79.4,230.1" stroke="#1a1a1a"/><path d="M82.5,235.5 L83.8,235.7 L83.7,235.9 L84.3,236.9 L85.6,237.0 L86.1,238.4 L86.2,239.0 L86.0,239.7" stroke="#1a1a1a"/><path d="M82.5,235.5 L82.8,234.9 L83.0,234.2 L82.4,232.7 L82.9,232.1 L83.1,230.9 L82.5,230.8 L82.7,230.5 L83.2,229.8" stroke="#1a1a1a"/><path d="M82.5,235.5 L82.3,235.5 L81.8,235.5 L82.5,234.5 L83.3,233.7 L84.3,234.2" stroke="#1a1a1a"/><path d="M82.5,235.5 L82.7,237.1 L83.5,237.3 L83.6,236.9 L82.6,236.0 L82.1,235.8 L82.0,234.8 L81.5,233.9 L81.7,233.2 L82.0,232.7 L82.4,232.0" stroke="#1a1a1a"/><path d="M82.5,235.5 L81.9,235.8 L81.3,237.2 L79.8,237.6 L79.5,238.0 L79.0,238.2 L78.6,238.5" stroke="#1a1a1a"/><path d="M82.5,235.5 L82.3,235.3 L82.9,234.9 L83.2,234.8 L83.6,234.6 L84.7,234.2 L85.7,234.1 L85.7,233.2" stroke="#1a1a1a"/><path d="M82.5,235.5 L82.1,236.2 L81.6,238.3 L81.5,238.4 L80.0,238.4 L78.7,238.3 L78.4,237.8 L77.1,238.1" stroke="#1a1a1a"/><path d="M82.5,235.5 L83.4,236.6 L83.4,237.4 L82.8,238.2 L82.3,237.8 L80.8,238.3 L80.2,238.3 L79.5,236.8 L79.2,235.7" stroke="#1a1a1a"/><path d="M82.5,235.5 L82.1,236.8 L82.5,237.3 L83.0,236.7 L83.2,235.5 L82.9,234.3 L83.5,234.5 L84.3,234.4 L84.4,235.1 L84.3,235.2 L84.5,235.3" stroke="#1a1a1a"/><path d="M82.5,235.5 L80.9,235.5 L80.7,235.7 L79.5,236.8 L78.6,237.1 L77.8,237.2 L77.3,236.7 L76.8,236.2 L76.2,236.4 L75.1,237.5" stroke="#1a1a1a"/><path d="M82.5,235.5 L83.6,235.9 L83.2,237.8 L83.0,239.1 L82.7,240.4 L83.4,240.9 L84.3,241.5 L83.9,242.8 L83.1,243.6 L83.0,244.9 L82.4,244.9" stroke="#1a1a1a"/><path d="M82.5,235.5 L83.3,236.0 L85.2,235.8 L83.7,235.0 L82.7,234.9 L82.5,235.5 L82.2,236.1 L82.0,236.8 L82.9,238.3 L82.4,238.8" stroke="#1a1a1a"/><path d="M82.5,235.5 L82.2,236.6 L82.0,237.0 L82.6,238.0 L82.5,238.2 L81.2,239.2 L81.0,239.4 L80.7,241.6 L80.5,243.1 L81.1,243.7 L81.0,242.9" stroke="#1a1a1a"/><path d="M82.5,235.5 L83.2,237.3 L83.6,238.4 L83.7,238.5 L85.0,239.1 L85.6,240.1 L85.6,240.3 L85.5,240.7" stroke="#1a1a1a"/><path d="M82.5,235.5 L82.0,234.7 L81.1,234.4 L80.9,234.0 L81.2,232.6 L81.6,232.2" stroke="#1a1a1a"/><path d="M82.5,235.5 L83.5,234.7 L84.1,235.0 L84.4,235.6 L85.3,235.5 L87.1,235.7 L89.2,235.5 L89.5,236.0 L90.4,236.5 L91.2,236.2 L91.3,236.1" stroke="#1a1a1a"/><path d="M82.5,235.5 L81.3,236.7 L80.9,237.2 L80.4,236.9 L81.1,237.0 L81.5,237.7 L82.1,236.2 L82.7,237.4 L82.8,238.2 L83.3,238.7" stroke="#1a1a1a"/><path d="M82.5,235.5 L82.7,235.0 L82.0,234.4 L81.9,233.7 L81.7,233.6 L79.7,233.6 L78.9,233.3 L77.2,233.3 L76.0,232.8" stroke="#1a1a1a"/><path d="M82.5,235.5 L81.8,235.8 L81.3,235.8 L80.3,235.5 L80.1,235.4 L79.7,234.3 L80.0,233.7 L80.1,233.3 L80.1,232.7 L79.5,232.4 L79.0,232.2" stroke="#1a1a1a"/><path d="M82.5,235.5 L81.5,237.3 L81.7,238.1 L82.5,239.1 L83.2,240.4 L83.1,241.5 L83.6,242.1 L84.4,241.8 L84.2,241.9 L84.5,242.9 L86.1,243.9" stroke="#1a1a1a"/><path d="M77.5,233.5 L80.5,238.5 L83.5,242.5 L85.0,244.5" stroke="#111"/><path d="M76.5,234.5 L79.5,239.5 L81.5,243.5 L82.5,245.5" stroke="#111"/><path d="M78.5,235.5 L82.5,240.5 L86.5,244.5 L87.5,248.5" stroke="#222"/><path d="M75.5,232.5 L78.5,237.5 L80.5,241.5 L79.5,244.5" stroke="#222"/><path d="M79.5,233.5 L83.5,237.5 L85.5,241.5 L84.5,245.5" stroke="#111"/><path d="M82.5,235.5 L88.5,230.5 L94.4,225.4" stroke="#444"/><path d="M82.5,235.5 L87.5,231.5 L93.1,228.2" stroke="#444"/><path d="M82.5,235.5 L91.5,233.5 L100.2,230.7" stroke="#444"/><path d="M82.5,235.5 L87.5,235.5 L92.4,235.5" stroke="#2a2a2a"/><path d="M82.5,235.5 L88.5,238.5 L93.8,241.6" stroke="#2a2a2a"/><path d="M82.5,235.5 L87.5,243.5 L91.8,251.5" stroke="#2a2a2a"/><path d="M82.5,235.5 L84.5,243.5 L86.3,251.2" stroke="#2a2a2a"/><path d="M82.5,235.5 L81.5,245.5 L80.6,256.2" stroke="#2a2a2a"/><path d="M82.5,235.5 L82.5,245.5 L82.6,257.3 L82.0,262.5 L77.0,266.5 L79.8,269.4" stroke="#444"/><path d="M82.5,235.5 L86.5,245.5 L89.5,251.5 L82.5,262.5" stroke="#555"/><path d="M82.5,235.5 L76.5,236.5 L70.1,237.3" stroke="#2a2a2a"/><path d="M82.5,235.5 L79.5,238.5 L74.5,243.5 L68.5,247.2" stroke="#666"/><path d="M82.5,235.5 L77.5,239.5 L73.5,244.5 L70.5,245.5" stroke="#666"/><path d="M82.5,235.5 L87.5,240.5 L92.5,244.5 L96.8,247.6" stroke="#666"/><path d="M82.5,235.5 L86.5,242.5 L91.5,246.5 L95.5,248.0" stroke="#666"/><path d="M82.5,235.5 L76.5,233.5 L72.5,234.0" stroke="#444"/></g>
<g fill="#000"><circle cx="75.6" cy="235.6" r="1.3"/><circle cx="78.3" cy="236.1" r="1.3"/><circle cx="80.4" cy="231.7" r="1.3"/><circle cx="79.6" cy="232.7" r="1.3"/><circle cx="82.0" cy="233.9" r="1.3"/><circle cx="79.0" cy="233.8" r="1.3"/><circle cx="84.3" cy="233.9" r="1.3"/><circle cx="76.6" cy="234.7" r="1.3"/><circle cx="76.7" cy="233.9" r="1.3"/><circle cx="81.3" cy="235.6" r="1.3"/><circle cx="79.7" cy="235.4" r="1.3"/><circle cx="78.7" cy="235.3" r="1.3"/><circle cx="77.5" cy="234.1" r="1.3"/><circle cx="78.6" cy="233.0" r="1.3"/><circle cx="78.7" cy="234.0" r="1.3"/><circle cx="79.1" cy="234.6" r="1.3"/><circle cx="84.3" cy="234.2" r="1.3"/><circle cx="82.4" cy="232.0" r="1.3"/><circle cx="79.2" cy="235.7" r="1.3"/><circle cx="84.5" cy="235.3" r="1.3"/><circle cx="82.4" cy="238.8" r="1.3"/><circle cx="85.5" cy="240.7" r="1.3"/><circle cx="81.6" cy="232.2" r="1.3"/><circle cx="76.0" cy="232.8" r="1.3"/><circle cx="85.0" cy="244.5" r="1.3"/><circle cx="84.5" cy="245.5" r="1.3"/><circle cx="94.4" cy="225.4" r="1.3"/><circle cx="93.1" cy="228.2" r="1.3"/><circle cx="100.2" cy="230.7" r="1.3"/><circle cx="92.4" cy="235.5" r="1.3"/><circle cx="93.8" cy="241.6" r="1.3"/><circle cx="91.8" cy="251.5" r="1.3"/><circle cx="86.3" cy="251.2" r="1.3"/><circle cx="80.6" cy="256.2" r="1.3"/><circle cx="82.6" cy="257.3" r="1.3"/><circle cx="79.8" cy="269.4" r="1.3"/><circle cx="70.1" cy="237.3" r="1.3"/></g>
<g fill="none" stroke-width="0.7" stroke-linejoin="round"><path d="M218.5,235.5 L219.4,237.0 L218.5,240.0 L218.9,241.8" stroke="#111"/><path d="M218.5,235.5 L219.5,237.1 L215.5,235.9 L217.1,237.2 L214.6,237.7 L214.3,238.2 L213.7,238.9" stroke="#111"/><path d="M218.5,235.5 L217.3,237.4 L216.5,238.2 L216.6,237.9 L216.3,239.0" stroke="#111"/><path d="M218.5,235.5 L217.1,237.0 L218.9,238.1 L218.3,238.7 L217.6,239.4 L217.1,240.2 L216.7,241.5" stroke="#111"/><path d="M218.5,235.5 L217.7,235.7 L217.6,236.2 L217.3,235.7 L216.2,237.1 L216.2,236.9 L215.7,238.0 L215.4,238.1" stroke="#111"/><path d="M218.5,235.5 L219.1,234.2 L216.2,237.1 L215.6,237.1 L214.3,237.8 L213.5,238.2 L213.0,239.0 L211.9,239.4" stroke="#111"/><path d="M218.5,235.5 L215.9,238.2 L217.1,237.5 L215.6,238.1 L215.5,238.9 L214.3,239.7 L213.8,240.8" stroke="#111"/><path d="M218.5,235.5 L218.0,236.8 L216.7,234.5 L216.9,233.8 L216.6,233.9 L216.2,234.2 L215.8,233.1 L215.5,233.0" stroke="#111"/><path d="M218.5,235.5 L218.9,234.9 L216.4,233.3 L217.3,230.8 L216.6,230.0 L216.1,228.9" stroke="#111"/><path d="M218.5,235.5 L217.3,237.2 L215.2,235.8 L215.5,238.1 L213.8,238.2 L212.4,238.9 L211.0,239.5" stroke="#111"/><path d="M218.5,235.5 L216.9,235.6 L215.4,234.3 L213.5,234.8" stroke="#111"/><path d="M218.5,235.5 L217.4,234.0 L218.6,234.3 L218.0,236.4 L217.6,235.5 L217.5,235.5 L217.3,235.9" stroke="#111"/><path d="M218.5,235.5 L220.0,236.4 L217.3,236.8 L218.6,236.5 L217.5,235.4 L217.4,235.9" stroke="#111"/><path d="M218.5,235.5 L219.3,236.6 L217.2,236.7 L216.8,236.1 L215.6,236.9" stroke="#111"/><path d="M218.5,235.5 L217.9,234.0 L216.7,233.0 L215.7,233.8 L214.7,232.7 L214.2,231.9" stroke="#111"/><path d="M218.5,235.5 L216.4,236.5 L217.9,236.3 L217.3,235.9 L215.7,235.5 L214.6,235.1 L214.3,235.1" stroke="#111"/><path d="M218.5,235.5 L217.6,236.6 L217.6,237.3 L217.1,238.1 L216.6,239.1" stroke="#111"/><path d="M218.5,235.5 L220.6,237.2 L219.1,234.7 L220.1,236.1 L220.4,235.8 L220.7,236.3" stroke="#111"/><path d="M218.5,235.5 L218.2,235.3 L218.8,234.7 L217.2,235.5 L217.1,236.6 L216.9,236.5 L216.6,236.4" stroke="#111"/><path d="M218.5,235.5 L216.6,235.5 L217.9,234.6 L216.1,235.5 L216.5,235.5 L216.2,234.9 L215.5,235.0" stroke="#111"/><path d="M218.5,235.5 L219.8,235.6 L217.8,237.5 L217.7,239.7 L216.6,241.8 L216.5,243.4" stroke="#111"/><path d="M218.5,235.5 L217.1,234.9 L217.1,234.5 L216.5,235.0 L214.8,234.4 L214.0,233.8 L213.4,233.5" stroke="#111"/><path d="M218.5,235.5 L216.4,234.4 L216.0,235.7 L215.7,235.5 L215.2,235.2" stroke="#111"/><path d="M218.5,235.5 L219.4,236.4 L217.8,236.0 L215.1,235.2 L214.6,235.0 L213.7,235.2 L213.2,235.3 L212.3,235.4" stroke="#111"/><path d="M218.5,235.5 L218.4,234.5 L218.1,235.2 L217.4,235.6 L216.5,236.4 L215.6,236.3" stroke="#111"/><path d="M218.5,235.5 L218.8,235.1 L216.6,236.8 L215.9,237.0 L214.8,239.4 L213.9,239.8 L213.2,240.4" stroke="#111"/><path d="M218.5,235.5 L220.0,235.3 L220.1,236.7 L220.7,237.8 L221.1,240.0 L221.2,240.9 L221.5,242.2 L223.0,242.1 L223.3,242.1" stroke="#1a1a1a"/><path d="M218.5,235.5 L218.7,237.8 L218.3,240.0 L218.3,241.5 L217.9,242.8 L217.5,243.6 L216.5,244.2 L216.0,245.3 L215.3,246.5" stroke="#1a1a1a"/><path d="M218.5,235.5 L217.7,235.8 L217.6,235.4 L217.8,235.4 L217.2,234.1 L216.2,234.6 L215.8,235.9 L214.5,236.2 L214.7,238.5 L214.9,239.2 L215.5,239.4 L216.3,239.5" stroke="#1a1a1a"/><path d="M218.5,235.5 L217.3,235.4 L215.6,235.3 L214.6,234.2 L214.6,233.9 L214.5,233.3 L214.9,234.1 L215.2,235.2 L215.6,235.3 L216.7,235.7 L216.9,236.6" stroke="#1a1a1a"/><path d="M218.5,235.5 L218.0,234.6 L217.9,234.7 L217.1,232.9 L216.5,232.4 L216.2,231.7 L215.7,231.6 L215.6,231.9 L215.5,232.2" stroke="#1a1a1a"/><path d="M218.5,235.5 L218.3,235.4 L218.2,235.6 L217.0,236.5 L216.2,236.7 L214.9,237.5 L213.9,237.8 L213.7,237.0 L212.8,236.4 L212.7,236.8 L212.4,237.7" stroke="#1a1a1a"/><path d="M218.5,235.5 L218.4,235.9 L219.2,237.0 L220.3,237.3 L221.1,237.2 L221.0,237.5 L221.9,236.5 L222.8,236.7" stroke="#1a1a1a"/><path d="M218.5,235.5 L219.5,237.4 L219.6,238.8 L219.4,240.3 L220.4,241.4 L221.4,242.1 L221.7,242.9 L220.7,243.9 L220.0,245.4 L219.5,245.8 L219.9,247.2" stroke="#1a1a1a"/><path d="M218.5,235.5 L217.3,237.0 L216.5,238.4 L216.3,240.2 L216.0,241.1 L215.5,242.3" stroke="#1a1a1a"/><path d="M218.5,235.5 L217.7,235.8 L217.2,235.6 L217.0,235.7 L216.1,234.8 L214.6,234.0" stroke="#1a1a1a"/><path d="M218.5,235.5 L217.8,235.5 L217.3,237.1 L218.2,237.8 L218.2,239.2 L218.1,240.4 L217.1,242.1" stroke="#1a1a1a"/><path d="M218.5,235.5 L218.2,236.5 L217.5,237.8 L216.8,239.2 L216.3,240.3 L215.0,241.6" stroke="#1a1a1a"/><path d="M218.5,235.5 L217.9,237.3 L216.9,236.9 L216.8,236.6 L216.3,236.8 L215.3,237.3 L214.9,238.2 L215.1,239.2 L215.0,240.4 L214.7,242.2 L214.6,243.7 L214.3,245.3" stroke="#1a1a1a"/><path d="M218.5,235.5 L219.1,236.3 L219.5,234.4 L219.1,234.2 L218.0,232.8 L217.7,232.7 L217.3,232.1" stroke="#1a1a1a"/><path d="M218.5,235.5 L219.1,237.2 L218.3,239.2 L216.6,240.5 L215.3,240.1 L215.1,239.4 L215.3,239.3 L216.0,238.2 L216.2,238.1 L217.8,239.0 L218.3,240.1" stroke="#1a1a1a"/><path d="M218.5,235.5 L218.1,235.7 L217.3,235.4 L216.6,235.3 L216.6,234.4 L216.2,233.5 L215.7,234.0 L215.0,235.0 L215.0,235.4" stroke="#1a1a1a"/><path d="M218.5,235.5 L218.9,234.8 L219.4,235.2 L220.1,236.2 L220.1,237.9 L219.4,238.4" stroke="#1a1a1a"/><path d="M218.5,235.5 L218.5,235.9 L220.4,235.0 L221.2,235.9 L221.1,237.3 L221.6,238.7 L222.6,240.9 L222.9,242.3 L224.1,244.0 L225.2,245.6 L225.4,246.3" stroke="#1a1a1a"/><path d="M218.5,235.5 L218.4,236.0 L217.5,238.1 L215.3,240.9 L216.0,242.1 L215.8,241.5 L216.4,240.4" stroke="#1a1a1a"/><path d="M218.5,235.5 L217.4,237.4 L216.4,239.3 L216.1,240.8 L215.8,242.4 L215.8,242.8 L216.1,243.3 L216.5,243.7 L216.6,244.1 L216.5,244.2 L216.9,244.9" stroke="#1a1a1a"/><path d="M218.5,235.5 L218.0,236.3 L217.5,238.4 L216.6,239.7 L216.0,240.0 L216.2,239.1 L216.5,238.7 L215.3,237.9 L215.0,236.8" stroke="#1a1a1a"/><path d="M218.5,235.5 L219.1,237.1 L218.3,238.0 L217.8,239.1 L216.8,240.5 L217.0,241.7 L217.1,242.8 L216.3,243.9 L215.5,244.5 L215.1,246.6 L215.0,248.0" stroke="#1a1a1a"/><path d="M218.5,235.5 L218.3,235.7 L217.4,235.2 L215.9,235.5 L215.8,237.9 L216.1,239.0 L216.4,239.9 L217.8,241.4 L218.0,241.7 L219.1,240.9" stroke="#1a1a1a"/><path d="M218.5,235.5 L218.1,236.9 L219.0,238.4 L219.5,238.7 L219.9,239.4 L220.0,238.6 L219.2,237.9 L219.1,237.4 L219.7,237.1 L220.0,236.9 L221.2,236.5" stroke="#1a1a1a"/><path d="M218.5,235.5 L219.4,237.0 L219.5,238.3 L219.7,239.1 L219.3,241.4 L218.3,242.0 L217.9,243.1 L216.8,243.3 L217.9,243.0" stroke="#1a1a1a"/><path d="M218.5,235.5 L216.9,235.7 L216.2,236.0 L214.9,237.3 L214.7,237.6 L213.3,236.6 L212.2,237.0 L210.5,238.2" stroke="#1a1a1a"/><path d="M218.5,235.5 L218.1,236.4 L218.1,237.7 L217.1,239.5 L216.2,241.1 L216.2,241.6" stroke="#1a1a1a"/><path d="M218.5,235.5 L218.3,233.9 L218.3,233.6 L218.8,233.0 L219.2,232.0 L220.2,233.0 L220.7,233.3" stroke="#1a1a1a"/><path d="M218.5,235.5 L219.6,234.7 L220.3,234.0 L221.9,234.3 L222.5,234.5 L222.4,236.2 L222.9,237.7 L222.5,239.3" stroke="#1a1a1a"/><path d="M218.5,235.5 L218.1,235.5 L217.3,235.7 L215.4,236.6 L214.0,235.7 L213.2,235.1 L212.4,235.1 L211.7,233.3" stroke="#1a1a1a"/><path d="M218.5,235.5 L219.5,235.8 L220.0,236.7 L220.5,237.5 L221.9,238.2 L221.5,239.7 L221.1,241.0 L220.7,241.3 L219.5,242.4 L218.0,241.7 L216.7,240.7 L216.3,241.0" stroke="#1a1a1a"/><path d="M218.5,235.5 L217.6,237.2 L217.2,238.2 L216.5,238.7 L215.4,240.0 L214.3,240.3" stroke="#1a1a1a"/><path d="M218.5,235.5 L218.1,234.4 L217.6,232.6 L217.7,231.8 L218.3,231.1 L219.1,231.6 L220.1,232.9 L220.9,234.2 L220.6,236.1 L219.6,238.8 L220.9,240.4 L221.9,241.3" stroke="#1a1a1a"/><path d="M218.5,235.5 L218.8,234.8 L218.6,233.7 L218.1,233.9 L216.7,234.1 L216.0,235.4 L215.3,235.9 L215.0,234.7 L213.8,234.6 L213.2,233.4" stroke="#1a1a1a"/><path d="M218.5,235.5 L218.6,234.8 L219.1,234.2 L217.9,234.4 L216.6,235.5 L216.1,234.8 L217.4,234.7 L217.6,234.4 L217.6,232.3 L218.0,231.4" stroke="#1a1a1a"/><path d="M218.5,235.5 L217.7,234.5 L216.8,234.0 L216.4,233.3 L216.2,232.8 L216.1,232.2 L216.3,231.9 L216.4,231.9 L216.1,231.1 L216.7,231.2 L217.5,230.6" stroke="#1a1a1a"/><path d="M218.5,235.5 L219.2,235.6 L219.9,236.5 L220.7,237.1 L220.7,239.1 L220.8,240.6 L220.5,241.8 L220.2,244.1 L220.6,246.7 L220.2,247.3" stroke="#1a1a1a"/><path d="M218.5,235.5 L219.1,234.3 L219.5,234.0 L220.3,234.3 L220.1,234.0 L219.4,234.0 L219.7,233.2 L219.2,231.5" stroke="#1a1a1a"/><path d="M218.5,235.5 L217.5,236.5 L216.6,236.9 L215.9,237.1 L214.9,237.3 L214.7,237.6 L212.9,237.6 L212.4,237.3" stroke="#1a1a1a"/><path d="M218.5,235.5 L218.6,236.4 L219.4,236.9 L220.0,238.0 L220.0,239.6 L220.0,240.1" stroke="#1a1a1a"/><path d="M218.5,235.5 L223.5,231.5 L229.8,225.8" stroke="#2a2a2a"/><path d="M218.5,235.5 L227.5,233.5 L236.3,230.6" stroke="#2a2a2a"/><path d="M218.5,235.5 L223.5,232.5 L229.0,228.5" stroke="#2a2a2a"/><path d="M218.5,235.5 L216.5,230.5 L214.5,226.1" stroke="#2a2a2a"/><path d="M218.5,235.5 L211.5,236.5 L205.5,237.4" stroke="#2a2a2a"/><path d="M218.5,235.5 L223.5,238.5 L229.0,241.5" stroke="#2a2a2a"/><path d="M218.5,235.5 L226.5,236.5 L231.5,237.0 L235.5,238.5 L242.8,256.9" stroke="#555"/><path d="M218.5,235.5 L224.5,241.5 L229.5,245.5 L232.3,248.0" stroke="#666"/><path d="M218.5,235.5 L223.5,243.5 L227.5,248.5 L230.5,246.5 L226.5,244.5" stroke="#666"/><path d="M218.5,235.5 L222.5,244.5 L225.5,250.5 L227.5,253.5 L227.4,261.7" stroke="#2a2a2a"/><path d="M218.5,235.5 L224.5,245.5 L228.5,255.5 L231.5,259.5 L234.7,258.5" stroke="#2a2a2a"/><path d="M218.5,235.5 L224.5,245.5 L229.5,255.5 L232.5,262.5 L234.7,263.4 L233.9,270.6" stroke="#555"/><path d="M218.5,235.5 L217.5,245.5 L215.7,256.6" stroke="#2a2a2a"/><path d="M218.5,235.5 L218.5,247.5 L219.5,255.5 L216.5,260.5 L212.0,266.6 L215.3,269.5" stroke="#555"/><path d="M218.5,235.5 L220.5,243.5 L222.5,251.2" stroke="#2a2a2a"/><path d="M218.5,235.5 L210.5,231.5 L206.0,231.0 L197.8,229.5" stroke="#444"/><path d="M218.5,235.5 L208.5,233.5 L198.5,236.5 L193.5,237.2 L189.5,229.5 L187.7,227.5 L193.0,227.6" stroke="#444"/><path d="M188.0,227.5 L192.5,227.6" stroke="#111"/><path d="M188.3,227.3 L191.0,227.9" stroke="#111"/><path d="M218.5,235.5 L210.5,242.5 L204.5,245.5 L200.5,246.0 L189.5,250.0 L188.5,246.5 L193.5,237.2 L197.5,236.0 L189.5,229.5" stroke="#555"/><path d="M181.0,231.0 L183.5,228.5 L185.5,225.2" stroke="#666"/><path d="M182.0,230.0 L185.5,229.0 L187.5,229.5" stroke="#666"/><path d="M218.5,235.5 L212.5,236.5 L205.8,237.2" stroke="#333"/><path d="M190.5,236.0 L198.5,238.0" stroke="#555"/><path d="M191.5,238.5 L197.5,235.0" stroke="#555"/><path d="M218.5,235.5 L214.5,233.5 L209.5,232.5 L205.5,232.5" stroke="#444"/><path d="M218.5,235.5 L216.5,230.5 L214.7,226.2" stroke="#222"/></g>
<g fill="#000"><circle cx="213.7" cy="238.9" r="1.3"/><circle cx="216.7" cy="241.5" r="1.3"/><circle cx="215.4" cy="238.1" r="1.3"/><circle cx="215.5" cy="233.0" r="1.3"/><circle cx="216.1" cy="228.9" r="1.3"/><circle cx="211.0" cy="239.5" r="1.3"/><circle cx="213.5" cy="234.8" r="1.3"/><circle cx="217.4" cy="235.9" r="1.3"/><circle cx="214.2" cy="231.9" r="1.3"/><circle cx="214.3" cy="235.1" r="1.3"/><circle cx="220.7" cy="236.3" r="1.3"/><circle cx="216.6" cy="236.4" r="1.3"/><circle cx="216.5" cy="243.4" r="1.3"/><circle cx="212.3" cy="235.4" r="1.3"/><circle cx="213.2" cy="240.4" r="1.3"/><circle cx="223.3" cy="242.1" r="1.3"/><circle cx="216.3" cy="239.5" r="1.3"/><circle cx="222.8" cy="236.7" r="1.3"/><circle cx="219.9" cy="247.2" r="1.3"/><circle cx="215.5" cy="242.3" r="1.3"/><circle cx="214.6" cy="234.0" r="1.3"/><circle cx="217.3" cy="232.1" r="1.3"/><circle cx="215.0" cy="235.4" r="1.3"/><circle cx="219.4" cy="238.4" r="1.3"/><circle cx="211.7" cy="233.3" r="1.3"/><circle cx="221.9" cy="241.3" r="1.3"/><circle cx="219.2" cy="231.5" r="1.3"/><circle cx="212.4" cy="237.3" r="1.3"/><circle cx="220.0" cy="240.1" r="1.3"/><circle cx="229.8" cy="225.8" r="1.3"/><circle cx="236.3" cy="230.6" r="1.3"/><circle cx="229.0" cy="228.5" r="1.3"/><circle cx="214.5" cy="226.1" r="1.3"/><circle cx="205.5" cy="237.4" r="1.3"/><circle cx="229.0" cy="241.5" r="1.3"/><circle cx="227.4" cy="261.7" r="1.3"/><circle cx="234.7" cy="258.5" r="1.3"/><circle cx="232.5" cy="262.5" r="1.3"/><circle cx="215.7" cy="256.6" r="1.3"/><circle cx="215.3" cy="269.5" r="1.3"/><circle cx="222.5" cy="251.2" r="1.3"/><circle cx="197.8" cy="229.5" r="1.3"/><circle cx="193.0" cy="227.6" r="1.3"/><circle cx="205.8" cy="237.2" r="1.3"/><circle cx="214.7" cy="226.2" r="1.3"/></g>
<g fill="none" stroke-width="0.65" stroke-linejoin="round"><path d="M398.5,235.5 L400.0,234.8 L400.7,235.8 L399.9,235.5 L400.9,235.1" stroke="#111"/><path d="M398.5,235.5 L400.0,234.5 L400.4,234.5 L399.9,232.9 L401.3,232.6 L402.1,232.2" stroke="#111"/><path d="M398.5,235.5 L397.9,236.8 L396.0,234.1 L396.2,234.7 L395.0,234.7 L393.9,234.6" stroke="#111"/><path d="M398.5,235.5 L398.2,235.6 L398.4,236.3 L397.2,237.0 L397.6,236.8 L397.4,237.1" stroke="#111"/><path d="M398.5,235.5 L399.8,236.2 L398.5,235.7 L399.5,234.3 L399.2,234.1 L399.9,233.7" stroke="#111"/><path d="M398.5,235.5 L398.8,234.4 L395.9,237.0 L396.5,237.0 L396.0,237.3 L395.0,237.5" stroke="#111"/><path d="M398.5,235.5 L399.4,235.9 L396.8,236.4 L396.9,236.4 L397.0,236.7 L397.4,235.6 L397.0,235.9 L397.0,236.2" stroke="#111"/><path d="M398.5,235.5 L398.9,235.4 L398.4,235.0 L398.4,233.7 L398.0,232.6" stroke="#111"/><path d="M398.5,235.5 L400.3,234.8 L399.3,235.9 L399.4,235.2 L400.6,235.2 L400.1,236.2 L400.6,235.8 L401.0,236.2" stroke="#111"/><path d="M398.5,235.5 L396.3,235.3 L396.2,236.6 L394.2,237.4" stroke="#111"/><path d="M398.5,235.5 L396.7,235.7 L396.7,235.2 L396.5,233.8 L395.6,232.3 L394.2,232.2 L393.7,231.3" stroke="#111"/><path d="M398.5,235.5 L399.2,235.4 L398.2,236.1 L397.6,236.1" stroke="#111"/><path d="M398.5,235.5 L398.6,235.9 L399.6,234.3 L399.8,233.6 L400.2,232.9 L400.2,232.1 L400.1,231.2 L400.2,230.8" stroke="#111"/><path d="M398.5,235.5 L398.0,234.9 L397.9,237.6 L398.0,237.3 L397.3,238.2" stroke="#111"/><path d="M398.5,235.5 L399.8,236.2 L399.9,235.2 L399.2,235.5 L399.1,234.0 L398.7,234.8 L398.7,234.6 L398.7,234.4" stroke="#111"/><path d="M398.5,235.5 L399.2,236.2 L398.7,236.3 L397.6,237.7 L396.6,237.5 L396.0,238.0" stroke="#111"/><path d="M398.5,235.5 L400.7,234.2 L399.7,234.2 L402.1,234.8 L402.9,233.9" stroke="#111"/><path d="M398.5,235.5 L399.4,235.2 L399.4,235.5 L397.4,235.2 L397.3,234.7 L397.9,234.8 L397.1,235.3 L397.0,235.1" stroke="#111"/><path d="M398.5,235.5 L399.6,234.0 L399.5,235.7 L400.5,235.5 L400.7,235.5" stroke="#111"/><path d="M398.5,235.5 L397.3,233.9 L394.8,234.7 L393.6,233.3" stroke="#111"/><path d="M398.5,235.5 L398.5,235.0 L399.5,236.0 L397.9,234.3 L398.3,235.0 L398.5,234.8 L398.9,234.8" stroke="#111"/><path d="M398.5,235.5 L397.5,235.6 L396.6,236.0 L395.5,236.5" stroke="#111"/><path d="M398.5,235.5 L398.5,235.8 L400.4,236.4 L400.7,236.8 L400.8,236.8" stroke="#111"/><path d="M398.5,235.5 L399.2,236.3 L397.1,233.7 L397.7,232.3 L397.8,232.3 L397.3,231.4 L397.0,230.3" stroke="#111"/><path d="M398.5,235.5 L399.1,236.0 L398.0,236.4 L399.2,235.7 L399.7,236.5 L400.2,236.9" stroke="#111"/><path d="M398.5,235.5 L398.0,234.9 L396.5,235.8 L396.3,235.1 L395.8,234.2 L394.3,234.9 L393.6,234.4" stroke="#111"/><path d="M398.5,235.5 L399.1,233.7 L400.6,233.2 L399.3,234.3 L401.0,233.6 L401.0,232.7 L401.9,232.2" stroke="#111"/><path d="M398.5,235.5 L398.1,236.6 L398.6,235.2 L397.7,234.7 L399.1,235.4 L398.4,235.4 L398.5,235.7" stroke="#111"/><path d="M398.5,235.5 L399.7,236.3 L399.6,235.6 L401.9,235.0 L402.5,235.1" stroke="#111"/><path d="M398.5,235.5 L399.0,234.4 L397.7,235.9 L396.3,235.3 L396.8,235.9 L396.2,236.0 L396.0,235.9" stroke="#111"/><path d="M398.5,235.5 L400.1,235.3 L402.0,234.8 L402.7,233.8 L403.3,233.8 L404.1,233.6" stroke="#111"/><path d="M398.5,235.5 L398.7,237.0 L400.7,236.8 L401.1,238.0 L400.6,238.4 L399.3,239.0 L398.2,239.7" stroke="#111"/><path d="M398.5,235.5 L398.6,233.4 L398.4,233.2 L398.1,232.3 L397.5,232.7 L397.4,233.5 L397.0,235.0 L396.2,235.9 L394.6,237.2 L393.7,235.6 L392.5,233.7 L391.4,234.3" stroke="#111"/><path d="M398.5,235.5 L399.0,234.6 L398.4,234.0 L400.1,233.6 L398.8,231.6 L399.0,231.3" stroke="#111"/><path d="M398.5,235.5 L399.4,234.3 L400.0,233.9 L400.0,232.7 L399.0,232.5 L398.0,232.4 L396.9,231.3 L395.7,231.2 L394.7,229.8" stroke="#111"/><path d="M398.5,235.5 L397.9,236.2 L397.3,237.1 L397.3,237.7 L397.2,238.1 L397.0,239.1 L397.0,239.9 L395.5,241.2" stroke="#111"/><path d="M398.5,235.5 L397.6,235.2 L397.4,235.3 L396.4,235.5 L396.1,236.0 L396.1,236.8 L395.5,237.7 L394.8,238.2 L393.5,238.6 L392.4,238.8" stroke="#111"/><path d="M398.5,235.5 L398.9,234.2 L400.3,233.3 L400.7,232.7 L401.2,231.0 L400.4,230.4 L399.0,230.1 L398.8,229.8 L398.7,228.6 L397.8,228.0 L396.7,227.8" stroke="#111"/><path d="M398.5,235.5 L398.6,233.7 L399.2,234.5 L399.6,235.7 L400.0,236.2 L400.8,237.7 L400.6,238.7 L401.1,239.3 L402.7,239.9 L403.7,240.1 L404.8,240.0 L405.8,240.5" stroke="#111"/><path d="M398.5,235.5 L399.5,235.5 L400.1,236.1 L401.9,237.3 L402.2,238.2 L401.3,238.9 L400.4,239.1 L399.7,238.9 L398.1,239.3" stroke="#111"/><path d="M398.5,235.5 L398.6,236.0 L399.4,236.3 L400.6,236.6 L400.0,237.7 L400.5,238.1 L400.8,238.2 L402.7,237.4 L402.8,236.4" stroke="#111"/><path d="M398.5,235.5 L397.9,235.5 L396.8,235.0 L395.8,232.8 L397.9,232.4 L398.4,231.2 L399.9,231.4 L401.2,229.9 L401.9,229.0 L402.6,228.6 L403.8,228.2" stroke="#111"/><path d="M398.5,235.5 L400.0,234.2 L400.0,234.1 L401.3,233.3 L402.3,233.9 L404.1,234.2" stroke="#111"/><path d="M398.5,235.5 L396.1,234.6 L395.3,233.8 L394.2,232.9 L394.1,231.7 L394.5,230.8 L394.7,229.9 L395.8,230.3 L396.2,231.4 L396.3,232.2" stroke="#111"/><path d="M398.5,235.5 L398.9,234.1 L400.5,233.9 L401.2,235.0 L401.4,236.3 L401.4,236.3" stroke="#111"/><path d="M398.5,235.5 L397.3,235.4 L395.9,234.5 L396.6,234.5 L397.2,235.1 L397.8,234.9" stroke="#111"/><path d="M398.5,235.5 L398.2,236.8 L397.5,237.5 L396.2,237.9 L394.8,238.6 L395.5,240.0" stroke="#111"/><path d="M398.5,235.5 L399.4,236.0 L399.5,236.8 L400.9,237.6 L401.6,238.4 L400.7,239.7 L399.6,241.4 L397.8,241.7" stroke="#111"/><path d="M398.5,235.5 L398.7,235.0 L398.6,234.8 L398.4,234.7 L398.4,234.6 L397.2,233.8 L396.2,234.0 L394.8,234.7 L393.6,235.6 L393.3,235.7 L392.4,235.9" stroke="#111"/><path d="M398.5,235.5 L397.7,234.5 L397.5,231.8 L397.7,231.1 L397.4,229.7 L397.4,229.6 L395.4,228.6" stroke="#111"/><path d="M398.5,235.5 L399.3,234.0 L398.5,233.5 L398.3,232.7 L398.2,231.9 L396.5,231.2 L394.6,229.4" stroke="#111"/><path d="M398.5,235.5 L397.8,233.9 L396.8,234.0 L397.4,232.8 L397.6,231.6 L398.7,231.2" stroke="#111"/><path d="M398.5,235.5 L398.3,237.6 L398.5,237.7 L400.2,237.8 L400.8,237.3 L400.6,234.8 L400.9,234.1 L401.6,233.7 L401.0,231.7 L399.8,230.2" stroke="#111"/><path d="M398.5,235.5 L399.4,235.9 L400.5,236.6 L402.2,237.1 L404.7,238.1 L405.9,237.5" stroke="#111"/><path d="M398.5,235.5 L399.8,235.5 L400.8,235.6 L402.5,234.9 L403.8,236.2 L404.9,236.2 L406.3,237.0 L406.6,235.1" stroke="#111"/><path d="M398.5,235.5 L397.6,236.6 L396.8,237.4 L395.5,238.2 L394.7,240.0 L394.3,240.8 L393.2,240.8 L392.7,241.2" stroke="#111"/><path d="M398.5,235.5 L397.8,234.0 L397.4,234.3 L396.7,236.4 L395.7,237.1 L395.2,236.8 L394.4,238.5 L392.7,238.8 L391.4,239.6 L390.9,240.2 L391.9,241.3" stroke="#111"/><path d="M398.5,235.5 L397.2,235.9 L396.3,235.8 L394.7,236.9 L394.8,237.0 L395.7,236.7 L395.6,236.5 L394.7,235.7 L394.8,235.1 L394.7,233.9 L394.7,233.8" stroke="#111"/><path d="M398.5,235.5 L400.6,234.3 L401.1,234.4 L401.9,234.4 L403.3,234.6 L403.8,234.8 L404.4,235.5 L404.7,236.9 L404.3,236.4 L403.8,235.6" stroke="#111"/><path d="M398.5,235.5 L399.2,236.0 L400.1,235.0 L401.1,234.7 L400.9,232.1 L401.3,230.8 L401.3,230.0 L401.1,229.7 L400.4,228.8" stroke="#111"/><path d="M398.5,235.5 L398.3,235.9 L397.0,236.3 L396.0,236.9 L394.8,237.2 L393.8,237.0 L393.8,235.8 L393.8,234.9 L392.1,234.9 L391.9,234.5 L391.1,232.9 L391.9,231.8" stroke="#111"/><path d="M398.5,235.5 L398.3,234.8 L397.7,234.6 L397.5,236.5 L396.4,236.6 L394.3,236.5 L394.1,236.8 L393.6,237.6 L393.0,239.7 L392.0,241.2 L393.6,241.8 L393.5,243.0" stroke="#111"/><path d="M398.5,235.5 L398.8,237.5 L400.2,238.0 L400.7,238.4 L401.0,239.3 L401.2,240.1 L402.1,240.7 L402.0,239.7 L402.2,238.9" stroke="#111"/><path d="M398.5,235.5 L398.6,236.9 L399.2,237.8 L399.5,238.9 L400.6,238.8 L401.3,238.1 L401.3,238.1 L401.5,237.9 L402.8,237.3 L403.2,237.3 L404.2,238.9" stroke="#111"/><path d="M398.5,235.5 L396.6,236.7 L394.1,239.5 L392.0,241.1" stroke="#111"/><path d="M398.5,235.5 L392.4,237.5 L388.2,238.1 L383.8,239.8" stroke="#111"/><path d="M398.5,235.5 L395.9,235.7 L392.7,237.2 L391.5,236.4 L389.6,237.5 L386.6,238.3 L384.2,239.1" stroke="#111"/><path d="M398.5,235.5 L394.8,236.1 L393.6,236.2 L391.9,237.8 L389.3,238.4 L386.8,239.6" stroke="#111"/><path d="M398.5,235.5 L397.9,236.7 L396.6,235.5 L394.9,237.1 L393.2,236.5 L392.2,236.9" stroke="#111"/><path d="M398.5,235.5 L393.3,237.0 L390.2,238.8 L386.8,239.7" stroke="#111"/><path d="M398.5,235.5 L396.2,237.0 L391.8,236.1 L390.5,237.9 L387.1,237.5 L384.5,238.2" stroke="#111"/><path d="M398.5,235.5 L397.0,237.7 L393.9,239.7 L392.0,240.9" stroke="#111"/><path d="M398.5,235.5 L399.1,236.5 L397.3,237.5 L396.3,235.8 L395.7,237.6 L395.1,237.5 L394.4,237.6" stroke="#111"/><path d="M398.5,235.5 L398.2,235.8 L396.9,236.2 L394.9,237.1 L395.3,237.5 L393.4,237.3 L392.9,237.1 L391.7,237.6" stroke="#111"/><path d="M398.5,235.5 L396.7,238.0 L392.0,238.7 L388.9,238.9 L386.2,240.2" stroke="#111"/><path d="M398.5,235.5 L398.7,236.5 L395.9,235.3 L393.9,237.1 L393.0,237.0 L391.1,236.9 L390.2,236.6 L388.5,236.9" stroke="#111"/><path d="M398.5,235.5 L395.4,237.8 L391.0,237.8 L388.0,237.7 L384.8,239.0" stroke="#111"/><path d="M398.5,235.5 L393.8,237.5 L389.7,237.3 L385.3,238.2" stroke="#111"/><path d="M398.5,235.5 L396.3,234.6 L394.4,235.4 L395.1,237.9 L392.1,238.1 L390.7,238.5 L389.5,239.0 L388.2,239.4" stroke="#111"/><path d="M398.5,235.5 L395.9,235.8 L394.1,238.5 L391.2,239.6" stroke="#111"/><path d="M398.5,235.5 L402.5,227.5 L407.8,218.0" stroke="#2a2a2a"/><path d="M398.5,235.5 L401.5,228.5 L404.7,222.1" stroke="#2a2a2a"/><path d="M398.5,235.5 L400.0,229.5 L401.0,224.6" stroke="#2a2a2a"/><path d="M398.5,235.5 L391.3,227.0 L384.5,228.5 L375.5,223.4 L379.2,234.3 L374.0,235.8 L380.5,236.5" stroke="#444"/><path d="M398.5,235.5 L394.5,231.5 L391.3,227.0" stroke="#2a2a2a"/><path d="M398.5,235.5 L403.5,238.5 L406.5,240.5 L409.0,241.0" stroke="#111"/><path d="M401.0,240.7 L409.5,241.1" stroke="#111"/><path d="M401.5,240.1 L408.5,240.5" stroke="#111"/><path d="M398.5,235.5 L392.5,237.5 L386.5,238.5 L380.5,240.0 L377.6,240.7" stroke="#222"/><path d="M398.5,235.5 L393.5,239.5 L388.5,242.0 L382.5,243.0 L379.5,241.5" stroke="#222"/><path d="M398.5,235.5 L394.5,240.5 L389.5,242.5 L386.5,240.5" stroke="#222"/><path d="M398.5,235.5 L391.5,236.5 L384.5,238.5 L378.5,238.0" stroke="#222"/><path d="M398.5,235.5 L396.5,241.5 L394.0,245.5 L393.7,250.5 L396.5,254.9 L398.6,250.5 L397.5,246.5 L395.5,247.5" stroke="#333"/><path d="M398.5,235.5 L395.5,244.5 L394.5,249.5 L390.5,252.5 L385.2,253.7" stroke="#333"/><path d="M398.5,235.5 L397.5,243.5 L397.0,248.5 L397.5,254.5" stroke="#444"/><path d="M398.5,235.5 L400.5,241.5 L404.5,246.5 L396.5,247.5 L398.5,243.5" stroke="#555"/><path d="M398.5,235.5 L402.5,241.5 L406.5,244.5 L409.5,246.5 L401.5,246.5" stroke="#555"/><path d="M398.5,235.5 L404.5,238.5 L408.5,237.5 L410.5,239.5" stroke="#333"/><path d="M398.5,235.5 L390.5,236.5 L385.5,235.5 L381.5,233.5 L377.5,234.5" stroke="#333"/></g>
<g fill="#000"><circle cx="400.9" cy="235.1" r="1.25"/><circle cx="402.1" cy="232.2" r="1.25"/><circle cx="393.9" cy="234.6" r="1.25"/><circle cx="395.0" cy="237.5" r="1.25"/><circle cx="397.0" cy="236.2" r="1.25"/><circle cx="401.0" cy="236.2" r="1.25"/><circle cx="393.7" cy="231.3" r="1.25"/><circle cx="400.2" cy="230.8" r="1.25"/><circle cx="398.7" cy="234.4" r="1.25"/><circle cx="396.0" cy="238.0" r="1.25"/><circle cx="402.9" cy="233.9" r="1.25"/><circle cx="397.0" cy="235.1" r="1.25"/><circle cx="400.7" cy="235.5" r="1.25"/><circle cx="395.5" cy="236.5" r="1.25"/><circle cx="400.8" cy="236.8" r="1.25"/><circle cx="397.0" cy="230.3" r="1.25"/><circle cx="400.2" cy="236.9" r="1.25"/><circle cx="393.6" cy="234.4" r="1.25"/><circle cx="401.9" cy="232.2" r="1.25"/><circle cx="398.5" cy="235.7" r="1.25"/><circle cx="404.1" cy="233.6" r="1.25"/><circle cx="399.0" cy="231.3" r="1.25"/><circle cx="397.8" cy="234.9" r="1.25"/><circle cx="397.8" cy="241.7" r="1.25"/><circle cx="383.8" cy="239.8" r="1.25"/><circle cx="394.4" cy="237.6" r="1.25"/><circle cx="391.7" cy="237.6" r="1.25"/><circle cx="386.2" cy="240.2" r="1.25"/><circle cx="388.5" cy="236.9" r="1.25"/><circle cx="391.2" cy="239.6" r="1.25"/><circle cx="407.8" cy="218.0" r="1.25"/><circle cx="404.7" cy="222.1" r="1.25"/><circle cx="401.0" cy="224.6" r="1.25"/><circle cx="391.3" cy="227.0" r="1.25"/><circle cx="409.0" cy="241.0" r="1.25"/><circle cx="377.6" cy="240.7" r="1.25"/><circle cx="386.5" cy="240.5" r="1.25"/><circle cx="385.2" cy="253.7" r="1.25"/></g>
<text x="273" y="54.6" font-size="8.2" text-anchor="start" font-weight="normal" font-style="normal" >FVIII</text>
<text x="273" y="104.5" font-size="8.2" text-anchor="start" font-weight="normal" font-style="normal" >Influenza</text>
<text x="479" y="56.8" font-size="8.2" text-anchor="middle" font-weight="normal" font-style="normal" >Unstimulated</text>
<text x="479" y="66.4" font-size="8.2" text-anchor="middle" font-weight="normal" font-style="normal" >splenocytes</text>
<text x="484" y="105.6" font-size="8.2" text-anchor="middle" font-weight="normal" font-style="normal" >Unstimulated</text>
<text x="484" y="114.7" font-size="8.2" text-anchor="middle" font-weight="normal" font-style="normal" >LN-lymphocytes</text>
<text x="275.5" y="214.9" font-size="8.2" text-anchor="start" font-weight="normal" font-style="normal" >FVIII</text>
<text x="275.5" y="259.2" font-size="8.2" text-anchor="start" font-weight="normal" font-style="normal" >Influenza</text>
<text x="277.8" y="268.4" font-size="8.2" text-anchor="start" font-weight="normal" font-style="normal" >+ MF59</text>
<text x="455.3" y="215.9" font-size="8.2" text-anchor="start" font-weight="normal" font-style="normal" >PBS</text>
<text x="455.1" y="265.2" font-size="8.2" text-anchor="start" font-weight="normal" font-style="normal" >CCL5</text>
<line x1="64.2" y1="344.3" x2="64.2" y2="436.1" stroke="#111" stroke-width="1.3"/>
<line x1="63.6" y1="435.5" x2="194.5" y2="435.5" stroke="#111" stroke-width="1.3"/>
<line x1="61.0" y1="435.50" x2="64.2" y2="435.50" stroke="#111" stroke-width="1"/>
<text x="58.900000000000006" y="438.10" font-size="8.8" letter-spacing="-0.35" text-anchor="end">0</text>
<line x1="61.0" y1="417.90" x2="64.2" y2="417.90" stroke="#111" stroke-width="1"/>
<text x="58.900000000000006" y="420.50" font-size="8.8" letter-spacing="-0.35" text-anchor="end">20</text>
<line x1="61.0" y1="400.30" x2="64.2" y2="400.30" stroke="#111" stroke-width="1"/>
<text x="58.900000000000006" y="402.90" font-size="8.8" letter-spacing="-0.35" text-anchor="end">40</text>
<line x1="61.0" y1="382.70" x2="64.2" y2="382.70" stroke="#111" stroke-width="1"/>
<text x="58.900000000000006" y="385.30" font-size="8.8" letter-spacing="-0.35" text-anchor="end">60</text>
<line x1="61.0" y1="365.10" x2="64.2" y2="365.10" stroke="#111" stroke-width="1"/>
<text x="58.900000000000006" y="367.70" font-size="8.8" letter-spacing="-0.35" text-anchor="end">80</text>
<line x1="61.0" y1="347.50" x2="64.2" y2="347.50" stroke="#111" stroke-width="1"/>
<text x="58.900000000000006" y="350.10" font-size="8.8" letter-spacing="-0.35" text-anchor="end">100</text>
<line x1="80.5" y1="435.5" x2="80.5" y2="438.5" stroke="#111" stroke-width="1"/>
<line x1="113.7" y1="435.5" x2="113.7" y2="438.5" stroke="#111" stroke-width="1"/>
<line x1="146.6" y1="435.5" x2="146.6" y2="438.5" stroke="#111" stroke-width="1"/>
<line x1="179.5" y1="435.5" x2="179.5" y2="438.5" stroke="#111" stroke-width="1"/>
<text transform="translate(27.2,390.2) rotate(-90)" font-size="9.4" text-anchor="middle" textLength="88.5" lengthAdjust="spacingAndGlyphs" class="ct">Absolute distance from</text>
<text transform="translate(37.6,389.6) rotate(-90)" font-size="9.4" text-anchor="middle" textLength="83" lengthAdjust="spacingAndGlyphs" class="ct">origin (arbitrary units)</text>
<line x1="69.5" y1="423.1" x2="91.5" y2="423.1" stroke="#999" stroke-width="1"/>
<line x1="80.5" y1="421.2" x2="80.5" y2="425.0" stroke="#999" stroke-width="1"/>
<line x1="75.0" y1="421.2" x2="86.0" y2="421.2" stroke="#999" stroke-width="1"/>
<line x1="75.0" y1="425.0" x2="86.0" y2="425.0" stroke="#999" stroke-width="1"/>
<circle cx="80.6" cy="382.0" r="1.85"/>
<circle cx="77.7" cy="401.2" r="1.85"/>
<circle cx="83.4" cy="407.1" r="1.85"/>
<circle cx="86.0" cy="404.7" r="1.85"/>
<circle cx="77.7" cy="411.1" r="1.85"/>
<circle cx="77.8" cy="417.3" r="1.85"/>
<circle cx="83.3" cy="417.6" r="1.85"/>
<circle cx="72.1" cy="418.8" r="1.85"/>
<circle cx="89.1" cy="419.4" r="1.85"/>
<circle cx="75.1" cy="421.5" r="1.85"/>
<circle cx="86.0" cy="421.2" r="1.85"/>
<circle cx="71.8" cy="426.0" r="1.85"/>
<circle cx="75.7" cy="425.8" r="1.85"/>
<circle cx="79.0" cy="425.5" r="1.85"/>
<circle cx="83.6" cy="425.5" r="1.85"/>
<circle cx="89.4" cy="426.0" r="1.85"/>
<circle cx="77.5" cy="424.3" r="1.85"/>
<circle cx="81.8" cy="424.0" r="1.85"/>
<circle cx="80.6" cy="429.4" r="1.85"/>
<circle cx="72.4" cy="430.3" r="1.85"/>
<circle cx="88.5" cy="430.0" r="1.85"/>
<circle cx="77.5" cy="434.9" r="1.85"/>
<circle cx="83.3" cy="434.3" r="1.85"/>
<circle cx="74.0" cy="423.5" r="1.85"/>
<circle cx="87.5" cy="423.5" r="1.85"/>
<circle cx="80.5" cy="427.5" r="1.85"/>
<circle cx="78.0" cy="428.0" r="1.85"/>
<circle cx="83.0" cy="428.0" r="1.85"/>
<circle cx="79.5" cy="422.5" r="1.85"/>
<circle cx="82.0" cy="426.5" r="1.85"/>
<circle cx="77.0" cy="426.5" r="1.85"/>
<circle cx="84.5" cy="423.0" r="1.85"/>
<circle cx="76.0" cy="423.0" r="1.85"/>
<circle cx="80.5" cy="424.8" r="1.85"/>
<path d="M114.34,368.57 L118.47,368.57 L116.40,372.34 Z"/>
<path d="M108.84,372.37 L112.97,372.37 L110.90,376.14 Z"/>
<path d="M111.53,385.97 L115.66,385.97 L113.60,389.74 Z"/>
<path d="M108.84,397.27 L112.97,397.27 L110.90,401.04 Z"/>
<path d="M114.03,396.77 L118.16,396.77 L116.10,400.54 Z"/>
<path d="M108.84,405.27 L112.97,405.27 L110.90,409.04 Z"/>
<path d="M114.53,407.77 L118.66,407.77 L116.60,411.54 Z"/>
<path d="M103.23,411.77 L107.36,411.77 L105.30,415.54 Z"/>
<path d="M107.23,413.37 L111.36,413.37 L109.30,417.14 Z"/>
<path d="M115.34,414.17 L119.47,414.17 L117.40,417.94 Z"/>
<path d="M120.14,413.37 L124.27,413.37 L122.20,417.14 Z"/>
<path d="M111.23,416.67 L115.36,416.67 L113.30,420.44 Z"/>
<path d="M108.84,420.37 L112.97,420.37 L110.90,424.14 Z"/>
<path d="M114.03,423.57 L118.16,423.57 L116.10,427.34 Z"/>
<path d="M108.84,429.57 L112.97,429.57 L110.90,433.34 Z"/>
<path d="M114.03,428.77 L118.16,428.77 L116.10,432.54 Z"/>
<line x1="102.7" y1="408.5" x2="124.7" y2="408.5" stroke="#222" stroke-width="1"/>
<line x1="113.7" y1="403.6" x2="113.7" y2="412.8" stroke="#222" stroke-width="1"/>
<line x1="108.4" y1="403.6" x2="119.0" y2="403.6" stroke="#222" stroke-width="1"/>
<line x1="108.4" y1="412.8" x2="119.0" y2="412.8" stroke="#222" stroke-width="1"/>
<line x1="135.5" y1="421.9" x2="157.5" y2="421.9" stroke="#999" stroke-width="1"/>
<line x1="146.5" y1="420.5" x2="146.5" y2="423.3" stroke="#999" stroke-width="1"/>
<line x1="141.0" y1="420.5" x2="152.0" y2="420.5" stroke="#999" stroke-width="1"/>
<line x1="141.0" y1="423.3" x2="152.0" y2="423.3" stroke="#999" stroke-width="1"/>
<circle cx="146.3" cy="372.0" r="1.85"/>
<circle cx="144.4" cy="401.2" r="1.85"/>
<circle cx="149.4" cy="401.2" r="1.85"/>
<circle cx="146.6" cy="411.0" r="1.85"/>
<circle cx="146.6" cy="417.5" r="1.85"/>
<circle cx="137.8" cy="418.8" r="1.85"/>
<circle cx="155.6" cy="418.8" r="1.85"/>
<circle cx="137.5" cy="431.6" r="1.85"/>
<circle cx="141.2" cy="432.1" r="1.85"/>
<circle cx="152.2" cy="432.2" r="1.85"/>
<circle cx="155.9" cy="430.2" r="1.85"/>
<circle cx="144.8" cy="435.2" r="1.85"/>
<circle cx="148.5" cy="435.0" r="1.85"/>
<circle cx="136.5" cy="420.5" r="1.85"/>
<circle cx="139.5" cy="421.0" r="1.85"/>
<circle cx="142.5" cy="420.8" r="1.85"/>
<circle cx="145.5" cy="421.0" r="1.85"/>
<circle cx="148.5" cy="420.8" r="1.85"/>
<circle cx="151.5" cy="421.0" r="1.85"/>
<circle cx="154.5" cy="420.5" r="1.85"/>
<circle cx="157.0" cy="420.5" r="1.85"/>
<circle cx="138.0" cy="423.0" r="1.85"/>
<circle cx="141.0" cy="423.5" r="1.85"/>
<circle cx="144.0" cy="423.2" r="1.85"/>
<circle cx="147.0" cy="423.5" r="1.85"/>
<circle cx="150.0" cy="423.2" r="1.85"/>
<circle cx="153.0" cy="423.5" r="1.85"/>
<circle cx="156.0" cy="423.0" r="1.85"/>
<circle cx="140.0" cy="425.5" r="1.85"/>
<circle cx="143.0" cy="426.0" r="1.85"/>
<circle cx="146.0" cy="426.0" r="1.85"/>
<circle cx="149.0" cy="426.0" r="1.85"/>
<circle cx="152.0" cy="425.5" r="1.85"/>
<circle cx="155.0" cy="425.0" r="1.85"/>
<circle cx="142.5" cy="428.0" r="1.85"/>
<circle cx="146.0" cy="428.5" r="1.85"/>
<circle cx="149.5" cy="428.0" r="1.85"/>
<circle cx="146.3" cy="430.0" r="1.85"/>
<path d="M177.24,355.07 L181.37,355.07 L179.30,358.84 Z"/>
<path d="M177.24,368.47 L181.37,368.47 L179.30,372.24 Z"/>
<path d="M174.53,373.87 L178.66,373.87 L176.60,377.64 Z"/>
<path d="M180.24,375.87 L184.37,375.87 L182.30,379.64 Z"/>
<path d="M177.63,381.97 L181.76,381.97 L179.70,385.74 Z"/>
<path d="M177.63,388.07 L181.76,388.07 L179.70,391.84 Z"/>
<path d="M172.34,408.47 L176.47,408.47 L174.40,412.24 Z"/>
<path d="M182.94,406.57 L187.06,406.57 L185.00,410.34 Z"/>
<path d="M177.34,403.47 L181.47,403.47 L179.40,407.24 Z"/>
<path d="M168.53,413.47 L172.66,413.47 L170.60,417.24 Z"/>
<path d="M173.53,416.57 L177.66,416.57 L175.60,420.34 Z"/>
<path d="M177.94,418.47 L182.06,418.47 L180.00,422.24 Z"/>
<path d="M181.94,417.87 L186.06,417.87 L184.00,421.64 Z"/>
<path d="M186.03,415.67 L190.16,415.67 L188.10,419.44 Z"/>
<path d="M172.34,423.47 L176.47,423.47 L174.40,427.24 Z"/>
<path d="M182.94,421.57 L187.06,421.57 L185.00,425.34 Z"/>
<path d="M177.74,425.97 L181.87,425.97 L179.80,429.74 Z"/>
<path d="M169.84,429.47 L173.97,429.47 L171.90,433.24 Z"/>
<path d="M185.44,427.27 L189.56,427.27 L187.50,431.04 Z"/>
<path d="M175.13,431.57 L179.26,431.57 L177.20,435.34 Z"/>
<path d="M180.44,430.97 L184.56,430.97 L182.50,434.74 Z"/>
<line x1="168.6" y1="408.2" x2="190.6" y2="408.2" stroke="#222" stroke-width="1"/>
<line x1="179.6" y1="403.8" x2="179.6" y2="413.4" stroke="#222" stroke-width="1"/>
<line x1="174.29999999999998" y1="403.8" x2="184.9" y2="403.8" stroke="#222" stroke-width="1"/>
<line x1="174.29999999999998" y1="413.4" x2="184.9" y2="413.4" stroke="#222" stroke-width="1"/>
<line x1="78.6" y1="350.4" x2="114.4" y2="350.4" stroke="#111" stroke-width="1"/>
<text x="96.20" y="349.5" font-size="9.6" text-anchor="middle">***</text>
<line x1="145.2" y1="350.4" x2="180.1" y2="350.4" stroke="#111" stroke-width="1"/>
<text x="162.40" y="349.5" font-size="9.6" text-anchor="middle">*</text>
<text x="80.6" y="449.2" font-size="8.8" letter-spacing="-0.3" class="lb" text-anchor="middle">FVIII</text>
<text x="113.8" y="449.2" font-size="8.8" letter-spacing="-0.3" class="lb" text-anchor="middle">Influenza</text>
<text x="147" y="449.2" font-size="8.8" letter-spacing="-0.3" class="lb" text-anchor="middle">FVIII</text>
<text x="179.6" y="449.2" font-size="8.8" letter-spacing="-0.3" class="lb" text-anchor="middle">Influenza</text>
<path d="M80.6,454.0 L80.6,456.8 L113.5,456.8 L113.5,454.0" fill="none" stroke="#111" stroke-width="1.3"/>
<path d="M146.7,454.0 L146.7,456.8 L179.6,456.8 L179.6,454.0" fill="none" stroke="#111" stroke-width="1.3"/>
<text x="97" y="466.9" font-size="8.8" letter-spacing="-0.3" class="lb" text-anchor="middle">1 hr</text>
<text x="163.3" y="466.9" font-size="8.8" letter-spacing="-0.3" class="lb" text-anchor="middle">12 hr</text>
<text x="130.15" y="480.5" font-size="10.1" text-anchor="middle" textLength="80.8" lengthAdjust="spacingAndGlyphs" class="ct">Source of chemokine</text>
<line x1="268.0" y1="344.5" x2="268.0" y2="436.1" stroke="#111" stroke-width="1.3"/>
<line x1="267.4" y1="435.5" x2="401.5" y2="435.5" stroke="#111" stroke-width="1.3"/>
<line x1="264.8" y1="435.50" x2="268.0" y2="435.50" stroke="#111" stroke-width="1"/>
<text x="262.7" y="438.10" font-size="8.8" letter-spacing="-0.35" text-anchor="end">0</text>
<line x1="264.8" y1="406.23" x2="268.0" y2="406.23" stroke="#111" stroke-width="1"/>
<text x="262.7" y="408.83" font-size="8.8" letter-spacing="-0.35" text-anchor="end">50</text>
<line x1="264.8" y1="376.97" x2="268.0" y2="376.97" stroke="#111" stroke-width="1"/>
<text x="262.7" y="379.57" font-size="8.8" letter-spacing="-0.35" text-anchor="end">100</text>
<line x1="264.8" y1="347.70" x2="268.0" y2="347.70" stroke="#111" stroke-width="1"/>
<text x="262.7" y="350.30" font-size="8.8" letter-spacing="-0.35" text-anchor="end">150</text>
<line x1="284.5" y1="435.5" x2="284.5" y2="438.5" stroke="#111" stroke-width="1"/>
<line x1="317.6" y1="435.5" x2="317.6" y2="438.5" stroke="#111" stroke-width="1"/>
<line x1="350.6" y1="435.5" x2="350.6" y2="438.5" stroke="#111" stroke-width="1"/>
<line x1="383.6" y1="435.5" x2="383.6" y2="438.5" stroke="#111" stroke-width="1"/>
<text transform="translate(231.4,390.2) rotate(-90)" font-size="9.4" text-anchor="middle" textLength="88.5" lengthAdjust="spacingAndGlyphs" class="ct">Absolute distance from</text>
<text transform="translate(241.8,389.6) rotate(-90)" font-size="9.4" text-anchor="middle" textLength="83" lengthAdjust="spacingAndGlyphs" class="ct">origin (arbitrary units)</text>
<line x1="273.5" y1="427.4" x2="295.5" y2="427.4" stroke="#999" stroke-width="1"/>
<line x1="284.5" y1="426.2" x2="284.5" y2="428.6" stroke="#999" stroke-width="1"/>
<line x1="279.0" y1="426.2" x2="290.0" y2="426.2" stroke="#999" stroke-width="1"/>
<line x1="279.0" y1="428.6" x2="290.0" y2="428.6" stroke="#999" stroke-width="1"/>
<circle cx="284.4" cy="400.0" r="1.85"/>
<circle cx="276.4" cy="412.8" r="1.85"/>
<circle cx="281.7" cy="416.7" r="1.85"/>
<circle cx="287.1" cy="418.0" r="1.85"/>
<circle cx="292.4" cy="415.5" r="1.85"/>
<circle cx="276.2" cy="419.4" r="1.85"/>
<circle cx="280.3" cy="423.4" r="1.85"/>
<circle cx="284.4" cy="424.2" r="1.85"/>
<circle cx="288.5" cy="423.7" r="1.85"/>
<circle cx="293.3" cy="422.5" r="1.85"/>
<circle cx="274.8" cy="431.9" r="1.85"/>
<circle cx="279.5" cy="434.2" r="1.85"/>
<circle cx="283.0" cy="434.6" r="1.85"/>
<circle cx="286.5" cy="434.6" r="1.85"/>
<circle cx="290.5" cy="434.0" r="1.85"/>
<circle cx="275.0" cy="426.5" r="1.85"/>
<circle cx="278.0" cy="427.0" r="1.85"/>
<circle cx="281.0" cy="426.5" r="1.85"/>
<circle cx="284.0" cy="427.0" r="1.85"/>
<circle cx="287.0" cy="426.5" r="1.85"/>
<circle cx="290.0" cy="427.0" r="1.85"/>
<circle cx="293.0" cy="426.5" r="1.85"/>
<circle cx="295.0" cy="427.5" r="1.85"/>
<circle cx="276.5" cy="429.3" r="1.85"/>
<circle cx="280.0" cy="429.5" r="1.85"/>
<circle cx="283.5" cy="429.8" r="1.85"/>
<circle cx="287.0" cy="429.5" r="1.85"/>
<circle cx="290.5" cy="429.8" r="1.85"/>
<circle cx="294.0" cy="429.5" r="1.85"/>
<path d="M315.24,374.87 L319.37,374.87 L317.30,378.64 Z"/>
<path d="M312.83,398.27 L316.96,398.27 L314.90,402.04 Z"/>
<path d="M318.54,396.17 L322.67,396.17 L320.60,399.94 Z"/>
<path d="M310.04,406.07 L314.17,406.07 L312.10,409.84 Z"/>
<path d="M315.63,408.87 L319.76,408.87 L317.70,412.64 Z"/>
<path d="M320.63,405.67 L324.76,405.67 L322.70,409.44 Z"/>
<path d="M307.13,422.37 L311.26,422.37 L309.20,426.14 Z"/>
<path d="M311.44,423.07 L315.56,423.07 L313.50,426.84 Z"/>
<path d="M316.33,422.37 L320.46,422.37 L318.40,426.14 Z"/>
<path d="M319.94,423.07 L324.06,423.07 L322.00,426.84 Z"/>
<path d="M324.13,421.67 L328.26,421.67 L326.20,425.44 Z"/>
<path d="M313.54,425.17 L317.67,425.17 L315.60,428.94 Z"/>
<path d="M318.54,424.47 L322.67,424.47 L320.60,428.24 Z"/>
<path d="M315.63,426.67 L319.76,426.67 L317.70,430.44 Z"/>
<path d="M306.44,428.77 L310.56,428.77 L308.50,432.54 Z"/>
<path d="M309.94,430.87 L314.06,430.87 L312.00,434.64 Z"/>
<path d="M321.33,429.47 L325.46,429.47 L323.40,433.24 Z"/>
<path d="M324.94,428.77 L329.06,428.77 L327.00,432.54 Z"/>
<path d="M313.54,433.47 L317.67,433.47 L315.60,437.24 Z"/>
<path d="M317.04,432.57 L321.17,432.57 L319.10,436.34 Z"/>
<path d="M308.94,419.97 L313.06,419.97 L311.00,423.74 Z"/>
<path d="M321.94,419.67 L326.06,419.67 L324.00,423.44 Z"/>
<line x1="306.3" y1="419.6" x2="328.90000000000003" y2="419.6" stroke="#222" stroke-width="1"/>
<line x1="317.6" y1="416.8" x2="317.6" y2="422.2" stroke="#222" stroke-width="1"/>
<line x1="311.6" y1="416.8" x2="323.6" y2="416.8" stroke="#222" stroke-width="1"/>
<line x1="311.6" y1="422.2" x2="323.6" y2="422.2" stroke="#222" stroke-width="1"/>
<line x1="339.6" y1="425.6" x2="361.6" y2="425.6" stroke="#999" stroke-width="1"/>
<line x1="350.6" y1="424.4" x2="350.6" y2="426.8" stroke="#999" stroke-width="1"/>
<line x1="345.1" y1="424.4" x2="356.1" y2="424.4" stroke="#999" stroke-width="1"/>
<line x1="345.1" y1="426.8" x2="356.1" y2="426.8" stroke="#999" stroke-width="1"/>
<circle cx="350.2" cy="393.2" r="1.85"/>
<circle cx="350.6" cy="412.5" r="1.85"/>
<circle cx="341.2" cy="419.4" r="1.85"/>
<circle cx="360.0" cy="418.1" r="1.85"/>
<circle cx="345.0" cy="421.5" r="1.85"/>
<circle cx="348.8" cy="422.5" r="1.85"/>
<circle cx="352.5" cy="422.2" r="1.85"/>
<circle cx="356.2" cy="421.5" r="1.85"/>
<circle cx="341.9" cy="430.0" r="1.85"/>
<circle cx="358.8" cy="429.4" r="1.85"/>
<circle cx="346.2" cy="433.1" r="1.85"/>
<circle cx="350.0" cy="433.8" r="1.85"/>
<circle cx="355.0" cy="433.5" r="1.85"/>
<circle cx="359.4" cy="432.2" r="1.85"/>
<circle cx="341.0" cy="424.6" r="1.85"/>
<circle cx="344.0" cy="425.2" r="1.85"/>
<circle cx="347.0" cy="424.8" r="1.85"/>
<circle cx="350.0" cy="425.2" r="1.85"/>
<circle cx="353.0" cy="424.8" r="1.85"/>
<circle cx="356.0" cy="425.2" r="1.85"/>
<circle cx="359.0" cy="424.6" r="1.85"/>
<circle cx="361.0" cy="425.5" r="1.85"/>
<circle cx="343.5" cy="427.5" r="1.85"/>
<circle cx="347.0" cy="428.0" r="1.85"/>
<circle cx="350.5" cy="427.8" r="1.85"/>
<circle cx="354.0" cy="428.0" r="1.85"/>
<circle cx="357.5" cy="427.5" r="1.85"/>
<path d="M381.54,374.87 L385.67,374.87 L383.60,378.64 Z"/>
<path d="M381.54,385.67 L385.67,385.67 L383.60,389.44 Z"/>
<path d="M376.54,393.47 L380.67,393.47 L378.60,397.24 Z"/>
<path d="M386.63,396.77 L390.76,396.77 L388.70,400.54 Z"/>
<path d="M381.54,398.17 L385.67,398.17 L383.60,401.94 Z"/>
<path d="M378.54,405.27 L382.67,405.27 L380.60,409.04 Z"/>
<path d="M384.63,408.47 L388.76,408.47 L386.70,412.24 Z"/>
<path d="M379.13,405.37 L383.26,405.37 L381.20,409.14 Z"/>
<path d="M384.13,407.87 L388.26,407.87 L386.20,411.64 Z"/>
<path d="M376.74,416.57 L380.87,416.57 L378.80,420.34 Z"/>
<path d="M381.04,418.47 L385.17,418.47 L383.10,422.24 Z"/>
<path d="M386.74,418.27 L390.87,418.27 L388.80,422.04 Z"/>
<path d="M390.44,420.37 L394.56,420.37 L392.50,424.14 Z"/>
<path d="M372.94,421.57 L377.06,421.57 L375.00,425.34 Z"/>
<path d="M376.74,422.87 L380.87,422.87 L378.80,426.64 Z"/>
<path d="M379.83,423.47 L383.96,423.47 L381.90,427.24 Z"/>
<path d="M384.83,422.87 L388.96,422.87 L386.90,426.64 Z"/>
<path d="M387.94,421.57 L392.06,421.57 L390.00,425.34 Z"/>
<path d="M381.74,425.37 L385.87,425.37 L383.80,429.14 Z"/>
<path d="M372.94,428.47 L377.06,428.47 L375.00,432.24 Z"/>
<path d="M377.33,429.07 L381.46,429.07 L379.40,432.84 Z"/>
<path d="M390.44,429.07 L394.56,429.07 L392.50,432.84 Z"/>
<path d="M381.04,431.57 L385.17,431.57 L383.10,435.34 Z"/>
<path d="M386.04,430.97 L390.17,430.97 L388.10,434.74 Z"/>
<line x1="373.0" y1="416.3" x2="394.6" y2="416.3" stroke="#222" stroke-width="1"/>
<line x1="383.8" y1="413.1" x2="383.8" y2="419.5" stroke="#222" stroke-width="1"/>
<line x1="377.8" y1="413.1" x2="389.8" y2="413.1" stroke="#222" stroke-width="1"/>
<line x1="377.8" y1="419.5" x2="389.8" y2="419.5" stroke="#222" stroke-width="1"/>
<line x1="282.9" y1="350.4" x2="317.9" y2="350.4" stroke="#111" stroke-width="1"/>
<text x="300.40" y="349.5" font-size="9.6" text-anchor="middle">**</text>
<line x1="349.6" y1="350.4" x2="384.7" y2="350.4" stroke="#111" stroke-width="1"/>
<text x="366.50" y="349.5" font-size="9.6" text-anchor="middle">**</text>
<text x="284.3" y="449.2" font-size="8.8" letter-spacing="-0.3" class="lb" text-anchor="middle">FVIII</text>
<text x="318.1" y="449.2" font-size="8.8" letter-spacing="-0.3" class="lb" text-anchor="middle">Influenza</text>
<text x="318.4" y="458" font-size="8.8" letter-spacing="-0.3" class="lb" text-anchor="middle">+ MF59</text>
<text x="350.8" y="449.2" font-size="8.8" letter-spacing="-0.3" class="lb" text-anchor="middle">FVIII</text>
<text x="384.2" y="449.2" font-size="8.8" letter-spacing="-0.3" class="lb" text-anchor="middle">Influenza</text>
<text x="384.4" y="458" font-size="8.8" letter-spacing="-0.3" class="lb" text-anchor="middle">+ MF59</text>
<path d="M284.7,460.0 L284.7,462.8 L317.7,462.8 L317.7,460.0" fill="none" stroke="#111" stroke-width="1.3"/>
<path d="M350.9,460.0 L350.9,462.8 L383.9,462.8 L383.9,460.0" fill="none" stroke="#111" stroke-width="1.3"/>
<text x="301" y="473.4" font-size="8.8" letter-spacing="-0.3" class="lb" text-anchor="middle">1 hr</text>
<text x="366.7" y="473.4" font-size="8.8" letter-spacing="-0.3" class="lb" text-anchor="middle">12 hr</text>
<text x="333.5" y="487" font-size="10.1" text-anchor="middle" textLength="80.8" lengthAdjust="spacingAndGlyphs" class="ct">Source of chemokine</text>
<rect x="0.5" y="0.5" width="519" height="493" fill="none" stroke="#1a1a1a" stroke-width="1"/>
</svg></body></html>
